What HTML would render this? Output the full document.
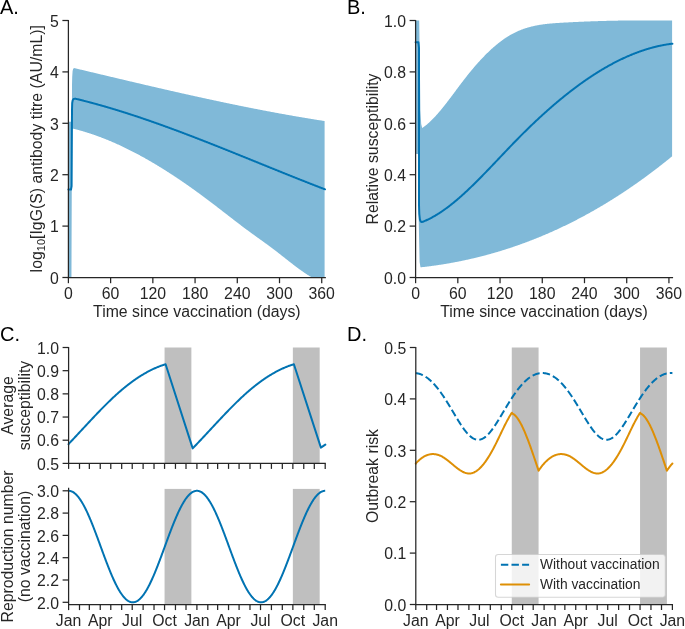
<!DOCTYPE html>
<html><head><meta charset="utf-8"><style>
html,body{margin:0;padding:0;background:#fff;}
svg{display:block;will-change:transform;}
text{font-family:"Liberation Sans",sans-serif;}
</style></head><body>
<svg width="685" height="629" viewBox="0 0 685 629" font-family="Liberation Sans, sans-serif" font-size="15.8" fill="#262626">
<rect width="685" height="629" fill="#fff"/>
<path d="M68.4,277.5 L68.4,121.7 L71.9,121.7 L72,85 L72.2,77 L72.6,71 L73.2,68.8 L74.2,68.1 L74.8,68.2 L75.3,68.32 L75.8,68.44 L76.3,68.56 L76.8,68.68 L77.3,68.79 L77.8,68.91 L78.3,69.03 L78.8,69.15 L79.3,69.27 L79.8,69.39 L80.3,69.51 L80.8,69.63 L81.3,69.75 L81.8,69.87 L82.3,69.99 L82.8,70.1 L83.3,70.22 L83.8,70.34 L84.3,70.46 L84.8,70.58 L85.3,70.7 L85.8,70.82 L86.3,70.94 L86.8,71.06 L87.3,71.18 L87.8,71.3 L88.3,71.41 L88.8,71.53 L89.3,71.65 L89.8,71.77 L90.3,71.89 L90.8,72.01 L91.3,72.13 L91.8,72.25 L92.3,72.37 L92.8,72.49 L93.3,72.61 L93.8,72.72 L94.3,72.84 L94.8,72.96 L95.3,73.08 L95.8,73.2 L96.3,73.32 L96.8,73.44 L97.3,73.56 L97.8,73.68 L98.3,73.8 L98.8,73.91 L99.3,74.03 L99.8,74.15 L100.3,74.27 L100.8,74.39 L101.3,74.51 L101.8,74.63 L102.3,74.75 L102.8,74.87 L103.3,74.99 L103.8,75.1 L104.3,75.22 L104.8,75.34 L105.3,75.46 L105.8,75.58 L106.3,75.7 L106.8,75.82 L107.3,75.94 L107.8,76.06 L108.3,76.17 L108.8,76.29 L109.3,76.41 L109.8,76.53 L110.3,76.65 L110.8,76.77 L111.3,76.89 L111.8,77 L112.3,77.12 L112.8,77.24 L113.3,77.36 L113.8,77.48 L114.3,77.6 L114.8,77.72 L115.3,77.83 L115.8,77.95 L116.3,78.07 L116.8,78.19 L117.3,78.31 L117.8,78.43 L118.3,78.55 L118.8,78.66 L119.3,78.78 L119.8,78.9 L120.3,79.02 L120.8,79.14 L121.3,79.26 L121.8,79.37 L122.3,79.49 L122.8,79.61 L123.3,79.73 L123.8,79.85 L124.3,79.96 L124.8,80.08 L125.3,80.2 L125.8,80.32 L126.3,80.44 L126.8,80.55 L127.3,80.67 L127.8,80.79 L128.3,80.91 L128.8,81.03 L129.3,81.14 L129.8,81.26 L130.3,81.38 L130.8,81.5 L131.3,81.61 L131.8,81.73 L132.3,81.85 L132.8,81.97 L133.3,82.08 L133.8,82.2 L134.3,82.32 L134.8,82.44 L135.3,82.55 L135.8,82.67 L136.3,82.79 L136.8,82.91 L137.3,83.02 L137.8,83.14 L138.3,83.26 L138.8,83.37 L139.3,83.49 L139.8,83.61 L140.3,83.73 L140.8,83.84 L141.3,83.96 L141.8,84.08 L142.3,84.19 L142.8,84.31 L143.3,84.43 L143.8,84.54 L144.3,84.66 L144.8,84.78 L145.3,84.89 L145.8,85.01 L146.3,85.13 L146.8,85.24 L147.3,85.36 L147.8,85.48 L148.3,85.59 L148.8,85.71 L149.3,85.83 L149.8,85.94 L150.3,86.06 L150.8,86.17 L151.3,86.29 L151.8,86.41 L152.3,86.52 L152.8,86.64 L153.3,86.75 L153.8,86.87 L154.3,86.98 L154.8,87.1 L155.3,87.22 L155.8,87.33 L156.3,87.45 L156.8,87.56 L157.3,87.68 L157.8,87.79 L158.3,87.91 L158.8,88.02 L159.3,88.14 L159.8,88.25 L160.3,88.37 L160.8,88.48 L161.3,88.6 L161.8,88.71 L162.3,88.83 L162.8,88.94 L163.3,89.06 L163.8,89.17 L164.3,89.29 L164.8,89.4 L165.3,89.52 L165.8,89.63 L166.3,89.75 L166.8,89.86 L167.3,89.98 L167.8,90.09 L168.3,90.2 L168.8,90.32 L169.3,90.43 L169.8,90.55 L170.3,90.66 L170.8,90.77 L171.3,90.89 L171.8,91 L172.3,91.12 L172.8,91.23 L173.3,91.34 L173.8,91.46 L174.3,91.57 L174.8,91.68 L175.3,91.8 L175.8,91.91 L176.3,92.02 L176.8,92.14 L177.3,92.25 L177.8,92.36 L178.3,92.47 L178.8,92.59 L179.3,92.7 L179.8,92.81 L180.3,92.93 L180.8,93.04 L181.3,93.15 L181.8,93.26 L182.3,93.38 L182.8,93.49 L183.3,93.6 L183.8,93.71 L184.3,93.82 L184.8,93.94 L185.3,94.05 L185.8,94.16 L186.3,94.27 L186.8,94.38 L187.3,94.5 L187.8,94.61 L188.3,94.72 L188.8,94.83 L189.3,94.94 L189.8,95.05 L190.3,95.16 L190.8,95.27 L191.3,95.39 L191.8,95.5 L192.3,95.61 L192.8,95.72 L193.3,95.83 L193.8,95.94 L194.3,96.05 L194.8,96.16 L195.3,96.27 L195.8,96.38 L196.3,96.49 L196.8,96.6 L197.3,96.71 L197.8,96.82 L198.3,96.93 L198.8,97.04 L199.3,97.15 L199.8,97.26 L200.3,97.37 L200.8,97.48 L201.3,97.59 L201.8,97.7 L202.3,97.81 L202.8,97.92 L203.3,98.03 L203.8,98.14 L204.3,98.24 L204.8,98.35 L205.3,98.46 L205.8,98.57 L206.3,98.68 L206.8,98.79 L207.3,98.9 L207.8,99 L208.3,99.11 L208.8,99.22 L209.3,99.33 L209.8,99.44 L210.3,99.54 L210.8,99.65 L211.3,99.76 L211.8,99.87 L212.3,99.97 L212.8,100.08 L213.3,100.19 L213.8,100.3 L214.3,100.4 L214.8,100.51 L215.3,100.62 L215.8,100.72 L216.3,100.83 L216.8,100.94 L217.3,101.04 L217.8,101.15 L218.3,101.26 L218.8,101.36 L219.3,101.47 L219.8,101.57 L220.3,101.68 L220.8,101.79 L221.3,101.89 L221.8,102 L222.3,102.1 L222.8,102.21 L223.3,102.31 L223.8,102.42 L224.3,102.52 L224.8,102.63 L225.3,102.73 L225.8,102.84 L226.3,102.94 L226.8,103.05 L227.3,103.15 L227.8,103.26 L228.3,103.36 L228.8,103.46 L229.3,103.57 L229.8,103.67 L230.3,103.78 L230.8,103.88 L231.3,103.98 L231.8,104.09 L232.3,104.19 L232.8,104.29 L233.3,104.4 L233.8,104.5 L234.3,104.6 L234.8,104.71 L235.3,104.81 L235.8,104.91 L236.3,105.01 L236.8,105.12 L237.3,105.22 L237.8,105.32 L238.3,105.42 L238.8,105.53 L239.3,105.63 L239.8,105.73 L240.3,105.83 L240.8,105.93 L241.3,106.03 L241.8,106.13 L242.3,106.24 L242.8,106.34 L243.3,106.44 L243.8,106.54 L244.3,106.64 L244.8,106.74 L245.3,106.84 L245.8,106.94 L246.3,107.04 L246.8,107.14 L247.3,107.24 L247.8,107.34 L248.3,107.44 L248.8,107.54 L249.3,107.64 L249.8,107.74 L250.3,107.84 L250.8,107.94 L251.3,108.04 L251.8,108.14 L252.3,108.23 L252.8,108.33 L253.3,108.43 L253.8,108.53 L254.3,108.63 L254.8,108.73 L255.3,108.82 L255.8,108.92 L256.3,109.02 L256.8,109.12 L257.3,109.22 L257.8,109.31 L258.3,109.41 L258.8,109.51 L259.3,109.6 L259.8,109.7 L260.3,109.8 L260.8,109.89 L261.3,109.99 L261.8,110.09 L262.3,110.18 L262.8,110.28 L263.3,110.38 L263.8,110.47 L264.3,110.57 L264.8,110.66 L265.3,110.76 L265.8,110.85 L266.3,110.95 L266.8,111.04 L267.3,111.14 L267.8,111.23 L268.3,111.33 L268.8,111.42 L269.3,111.52 L269.8,111.61 L270.3,111.71 L270.8,111.8 L271.3,111.89 L271.8,111.99 L272.3,112.08 L272.8,112.17 L273.3,112.27 L273.8,112.36 L274.3,112.45 L274.8,112.55 L275.3,112.64 L275.8,112.73 L276.3,112.82 L276.8,112.92 L277.3,113.01 L277.8,113.1 L278.3,113.19 L278.8,113.28 L279.3,113.38 L279.8,113.47 L280.3,113.56 L280.8,113.65 L281.3,113.74 L281.8,113.83 L282.3,113.92 L282.8,114.01 L283.3,114.1 L283.8,114.19 L284.3,114.28 L284.8,114.37 L285.3,114.46 L285.8,114.55 L286.3,114.64 L286.8,114.73 L287.3,114.82 L287.8,114.91 L288.3,115 L288.8,115.09 L289.3,115.18 L289.8,115.27 L290.3,115.35 L290.8,115.44 L291.3,115.53 L291.8,115.62 L292.3,115.71 L292.8,115.79 L293.3,115.88 L293.8,115.97 L294.3,116.06 L294.8,116.14 L295.3,116.23 L295.8,116.32 L296.3,116.4 L296.8,116.49 L297.3,116.57 L297.8,116.66 L298.3,116.75 L298.8,116.83 L299.3,116.92 L299.8,117 L300.3,117.09 L300.8,117.17 L301.3,117.26 L301.8,117.34 L302.3,117.43 L302.8,117.51 L303.3,117.6 L303.8,117.68 L304.3,117.76 L304.8,117.85 L305.3,117.93 L305.8,118.02 L306.3,118.1 L306.8,118.18 L307.3,118.26 L307.8,118.35 L308.3,118.43 L308.8,118.51 L309.3,118.6 L309.8,118.68 L310.3,118.76 L310.8,118.84 L311.3,118.92 L311.8,119 L312.3,119.09 L312.8,119.17 L313.3,119.25 L313.8,119.33 L314.3,119.41 L314.8,119.49 L315.3,119.57 L315.8,119.65 L316.3,119.73 L316.8,119.81 L317.3,119.89 L317.8,119.97 L318.3,120.05 L318.8,120.13 L319.3,120.21 L319.8,120.29 L320.3,120.36 L320.8,120.44 L321.3,120.52 L321.8,120.6 L322.3,120.68 L322.8,120.75 L323.3,120.83 L323.8,120.91 L324.3,120.99 L324.6,121.03 L324.6,277.5 L324.3,277.5 L323.8,277.5 L323.3,277.5 L322.8,277.5 L322.3,277.5 L321.8,277.5 L321.3,277.5 L320.8,277.5 L320.3,277.5 L319.8,277.5 L319.3,277.5 L318.8,277.5 L318.3,277.5 L317.8,277.5 L317.3,277.5 L316.8,277.5 L316.3,277.5 L315.8,277.5 L315.3,277.5 L314.8,277.5 L314.3,277.5 L313.8,277.5 L313.3,277.5 L312.8,277.5 L312.3,277.5 L311.8,277.35 L311.3,277.08 L310.8,276.79 L310.3,276.5 L309.8,276.2 L309.3,275.9 L308.8,275.59 L308.3,275.27 L307.8,274.96 L307.3,274.63 L306.8,274.31 L306.3,273.98 L305.8,273.65 L305.3,273.32 L304.8,272.99 L304.3,272.65 L303.8,272.31 L303.3,271.96 L302.8,271.62 L302.3,271.27 L301.8,270.92 L301.3,270.56 L300.8,270.21 L300.3,269.85 L299.8,269.49 L299.3,269.13 L298.8,268.76 L298.3,268.39 L297.8,268.03 L297.3,267.66 L296.8,267.28 L296.3,266.91 L295.8,266.54 L295.3,266.16 L294.8,265.78 L294.3,265.4 L293.8,265.02 L293.3,264.64 L292.8,264.25 L292.3,263.87 L291.8,263.48 L291.3,263.1 L290.8,262.71 L290.3,262.32 L289.8,261.93 L289.3,261.54 L288.8,261.15 L288.3,260.76 L287.8,260.37 L287.3,259.97 L286.8,259.58 L286.3,259.19 L285.8,258.79 L285.3,258.4 L284.8,258.01 L284.3,257.61 L283.8,257.22 L283.3,256.82 L282.8,256.43 L282.3,256.03 L281.8,255.64 L281.3,255.25 L280.8,254.85 L280.3,254.46 L279.8,254.07 L279.3,253.68 L278.8,253.29 L278.3,252.9 L277.8,252.51 L277.3,252.12 L276.8,251.73 L276.3,251.35 L275.8,250.96 L275.3,250.58 L274.8,250.19 L274.3,249.81 L273.8,249.43 L273.3,249.05 L272.8,248.67 L272.3,248.29 L271.8,247.92 L271.3,247.55 L270.8,247.17 L270.3,246.8 L269.8,246.43 L269.3,246.06 L268.8,245.69 L268.3,245.32 L267.8,244.96 L267.3,244.59 L266.8,244.23 L266.3,243.86 L265.8,243.5 L265.3,243.14 L264.8,242.78 L264.3,242.41 L263.8,242.05 L263.3,241.69 L262.8,241.33 L262.3,240.97 L261.8,240.61 L261.3,240.25 L260.8,239.9 L260.3,239.54 L259.8,239.18 L259.3,238.82 L258.8,238.46 L258.3,238.1 L257.8,237.75 L257.3,237.39 L256.8,237.03 L256.3,236.67 L255.8,236.31 L255.3,235.95 L254.8,235.59 L254.3,235.23 L253.8,234.87 L253.3,234.51 L252.8,234.15 L252.3,233.79 L251.8,233.42 L251.3,233.06 L250.8,232.7 L250.3,232.33 L249.8,231.96 L249.3,231.6 L248.8,231.23 L248.3,230.86 L247.8,230.49 L247.3,230.12 L246.8,229.75 L246.3,229.38 L245.8,229.01 L245.3,228.63 L244.8,228.26 L244.3,227.89 L243.8,227.51 L243.3,227.13 L242.8,226.76 L242.3,226.38 L241.8,226 L241.3,225.63 L240.8,225.25 L240.3,224.87 L239.8,224.49 L239.3,224.11 L238.8,223.73 L238.3,223.35 L237.8,222.96 L237.3,222.58 L236.8,222.2 L236.3,221.82 L235.8,221.43 L235.3,221.05 L234.8,220.66 L234.3,220.28 L233.8,219.9 L233.3,219.51 L232.8,219.12 L232.3,218.74 L231.8,218.35 L231.3,217.97 L230.8,217.58 L230.3,217.19 L229.8,216.81 L229.3,216.42 L228.8,216.03 L228.3,215.65 L227.8,215.26 L227.3,214.87 L226.8,214.49 L226.3,214.1 L225.8,213.71 L225.3,213.32 L224.8,212.94 L224.3,212.55 L223.8,212.16 L223.3,211.78 L222.8,211.39 L222.3,211 L221.8,210.61 L221.3,210.23 L220.8,209.84 L220.3,209.45 L219.8,209.07 L219.3,208.68 L218.8,208.3 L218.3,207.91 L217.8,207.53 L217.3,207.14 L216.8,206.76 L216.3,206.37 L215.8,205.99 L215.3,205.6 L214.8,205.22 L214.3,204.84 L213.8,204.45 L213.3,204.07 L212.8,203.69 L212.3,203.31 L211.8,202.93 L211.3,202.55 L210.8,202.17 L210.3,201.79 L209.8,201.41 L209.3,201.03 L208.8,200.65 L208.3,200.28 L207.8,199.9 L207.3,199.52 L206.8,199.15 L206.3,198.77 L205.8,198.4 L205.3,198.03 L204.8,197.65 L204.3,197.28 L203.8,196.91 L203.3,196.54 L202.8,196.17 L202.3,195.8 L201.8,195.43 L201.3,195.06 L200.8,194.69 L200.3,194.33 L199.8,193.96 L199.3,193.59 L198.8,193.23 L198.3,192.86 L197.8,192.5 L197.3,192.14 L196.8,191.77 L196.3,191.41 L195.8,191.05 L195.3,190.69 L194.8,190.33 L194.3,189.97 L193.8,189.61 L193.3,189.25 L192.8,188.9 L192.3,188.54 L191.8,188.18 L191.3,187.83 L190.8,187.47 L190.3,187.12 L189.8,186.77 L189.3,186.42 L188.8,186.06 L188.3,185.71 L187.8,185.36 L187.3,185.01 L186.8,184.66 L186.3,184.31 L185.8,183.97 L185.3,183.62 L184.8,183.27 L184.3,182.93 L183.8,182.58 L183.3,182.24 L182.8,181.9 L182.3,181.55 L181.8,181.21 L181.3,180.87 L180.8,180.53 L180.3,180.19 L179.8,179.85 L179.3,179.51 L178.8,179.18 L178.3,178.84 L177.8,178.5 L177.3,178.17 L176.8,177.83 L176.3,177.5 L175.8,177.17 L175.3,176.84 L174.8,176.5 L174.3,176.17 L173.8,175.84 L173.3,175.52 L172.8,175.19 L172.3,174.86 L171.8,174.53 L171.3,174.21 L170.8,173.88 L170.3,173.56 L169.8,173.23 L169.3,172.91 L168.8,172.59 L168.3,172.27 L167.8,171.95 L167.3,171.63 L166.8,171.31 L166.3,170.99 L165.8,170.67 L165.3,170.36 L164.8,170.04 L164.3,169.73 L163.8,169.41 L163.3,169.1 L162.8,168.79 L162.3,168.48 L161.8,168.17 L161.3,167.86 L160.8,167.55 L160.3,167.24 L159.8,166.93 L159.3,166.63 L158.8,166.32 L158.3,166.02 L157.8,165.71 L157.3,165.41 L156.8,165.11 L156.3,164.81 L155.8,164.51 L155.3,164.21 L154.8,163.91 L154.3,163.61 L153.8,163.31 L153.3,163.02 L152.8,162.72 L152.3,162.43 L151.8,162.13 L151.3,161.84 L150.8,161.55 L150.3,161.26 L149.8,160.97 L149.3,160.68 L148.8,160.39 L148.3,160.11 L147.8,159.82 L147.3,159.53 L146.8,159.25 L146.3,158.97 L145.8,158.68 L145.3,158.4 L144.8,158.12 L144.3,157.84 L143.8,157.56 L143.3,157.29 L142.8,157.01 L142.3,156.73 L141.8,156.46 L141.3,156.18 L140.8,155.91 L140.3,155.64 L139.8,155.37 L139.3,155.1 L138.8,154.83 L138.3,154.56 L137.8,154.29 L137.3,154.02 L136.8,153.76 L136.3,153.49 L135.8,153.23 L135.3,152.97 L134.8,152.7 L134.3,152.44 L133.8,152.18 L133.3,151.92 L132.8,151.67 L132.3,151.41 L131.8,151.15 L131.3,150.9 L130.8,150.64 L130.3,150.39 L129.8,150.14 L129.3,149.89 L128.8,149.64 L128.3,149.39 L127.8,149.14 L127.3,148.89 L126.8,148.65 L126.3,148.4 L125.8,148.16 L125.3,147.92 L124.8,147.67 L124.3,147.43 L123.8,147.19 L123.3,146.96 L122.8,146.72 L122.3,146.48 L121.8,146.24 L121.3,146.01 L120.8,145.78 L120.3,145.54 L119.8,145.31 L119.3,145.08 L118.8,144.85 L118.3,144.62 L117.8,144.4 L117.3,144.17 L116.8,143.95 L116.3,143.72 L115.8,143.5 L115.3,143.28 L114.8,143.05 L114.3,142.84 L113.8,142.62 L113.3,142.4 L112.8,142.18 L112.3,141.97 L111.8,141.75 L111.3,141.54 L110.8,141.33 L110.3,141.11 L109.8,140.9 L109.3,140.7 L108.8,140.49 L108.3,140.28 L107.8,140.08 L107.3,139.87 L106.8,139.67 L106.3,139.46 L105.8,139.26 L105.3,139.06 L104.8,138.86 L104.3,138.67 L103.8,138.47 L103.3,138.27 L102.8,138.08 L102.3,137.89 L101.8,137.69 L101.3,137.5 L100.8,137.31 L100.3,137.12 L99.8,136.94 L99.3,136.75 L98.8,136.56 L98.3,136.38 L97.8,136.2 L97.3,136.02 L96.8,135.83 L96.3,135.66 L95.8,135.48 L95.3,135.3 L94.8,135.12 L94.3,134.95 L93.8,134.78 L93.3,134.6 L92.8,134.43 L92.3,134.26 L91.8,134.09 L91.3,133.92 L90.8,133.76 L90.3,133.59 L89.8,133.43 L89.3,133.27 L88.8,133.1 L88.3,132.94 L87.8,132.78 L87.3,132.63 L86.8,132.47 L86.3,132.31 L85.8,132.16 L85.3,132 L84.8,131.85 L84.3,131.7 L83.8,131.55 L83.3,131.4 L82.8,131.26 L82.3,131.11 L81.8,130.97 L81.3,130.82 L80.8,130.68 L80.3,130.54 L79.8,130.4 L79.3,130.26 L78.8,130.12 L78.3,129.99 L77.8,129.85 L77.3,129.72 L76.8,129.59 L76.3,129.46 L75.8,129.33 L75.3,129.2 L74.8,129.07 L74.3,128.95 L73.8,128.82 L73.3,128.7 L72.6,128.9 L72,129.5 L71.45,277.5 Z" fill="#80b9d8"/>
<path d="M68.4,189.6 L71,189.6 L71.6,186 L72,110 L72.2,103 L72.7,100.2 L73.6,98.9 L75.1,98.61 L75.6,98.73 L76.1,98.86 L76.6,98.98 L77.1,99.1 L77.6,99.22 L78.1,99.34 L78.6,99.47 L79.1,99.59 L79.6,99.71 L80.1,99.84 L80.6,99.96 L81.1,100.09 L81.6,100.21 L82.1,100.34 L82.6,100.46 L83.1,100.59 L83.6,100.72 L84.1,100.85 L84.6,100.97 L85.1,101.1 L85.6,101.23 L86.1,101.36 L86.6,101.49 L87.1,101.62 L87.6,101.75 L88.1,101.88 L88.6,102.01 L89.1,102.15 L89.6,102.28 L90.1,102.41 L90.6,102.54 L91.1,102.68 L91.6,102.81 L92.1,102.95 L92.6,103.08 L93.1,103.22 L93.6,103.35 L94.1,103.49 L94.6,103.62 L95.1,103.76 L95.6,103.9 L96.1,104.04 L96.6,104.17 L97.1,104.31 L97.6,104.45 L98.1,104.59 L98.6,104.73 L99.1,104.87 L99.6,105.01 L100.1,105.15 L100.6,105.29 L101.1,105.43 L101.6,105.58 L102.1,105.72 L102.6,105.86 L103.1,106 L103.6,106.15 L104.1,106.29 L104.6,106.44 L105.1,106.58 L105.6,106.73 L106.1,106.87 L106.6,107.02 L107.1,107.16 L107.6,107.31 L108.1,107.46 L108.6,107.6 L109.1,107.75 L109.6,107.9 L110.1,108.05 L110.6,108.2 L111.1,108.35 L111.6,108.5 L112.1,108.65 L112.6,108.8 L113.1,108.95 L113.6,109.1 L114.1,109.25 L114.6,109.4 L115.1,109.55 L115.6,109.7 L116.1,109.86 L116.6,110.01 L117.1,110.16 L117.6,110.32 L118.1,110.47 L118.6,110.63 L119.1,110.78 L119.6,110.93 L120.1,111.09 L120.6,111.25 L121.1,111.4 L121.6,111.56 L122.1,111.72 L122.6,111.87 L123.1,112.03 L123.6,112.19 L124.1,112.35 L124.6,112.5 L125.1,112.66 L125.6,112.82 L126.1,112.98 L126.6,113.14 L127.1,113.3 L127.6,113.46 L128.1,113.62 L128.6,113.78 L129.1,113.95 L129.6,114.11 L130.1,114.27 L130.6,114.43 L131.1,114.59 L131.6,114.76 L132.1,114.92 L132.6,115.08 L133.1,115.25 L133.6,115.41 L134.1,115.58 L134.6,115.74 L135.1,115.91 L135.6,116.07 L136.1,116.24 L136.6,116.4 L137.1,116.57 L137.6,116.74 L138.1,116.9 L138.6,117.07 L139.1,117.24 L139.6,117.41 L140.1,117.57 L140.6,117.74 L141.1,117.91 L141.6,118.08 L142.1,118.25 L142.6,118.42 L143.1,118.59 L143.6,118.76 L144.1,118.93 L144.6,119.1 L145.1,119.27 L145.6,119.44 L146.1,119.61 L146.6,119.79 L147.1,119.96 L147.6,120.13 L148.1,120.3 L148.6,120.48 L149.1,120.65 L149.6,120.82 L150.1,121 L150.6,121.17 L151.1,121.34 L151.6,121.52 L152.1,121.69 L152.6,121.87 L153.1,122.04 L153.6,122.22 L154.1,122.39 L154.6,122.57 L155.1,122.75 L155.6,122.92 L156.1,123.1 L156.6,123.28 L157.1,123.45 L157.6,123.63 L158.1,123.81 L158.6,123.99 L159.1,124.17 L159.6,124.35 L160.1,124.52 L160.6,124.7 L161.1,124.88 L161.6,125.06 L162.1,125.24 L162.6,125.42 L163.1,125.6 L163.6,125.78 L164.1,125.96 L164.6,126.14 L165.1,126.32 L165.6,126.51 L166.1,126.69 L166.6,126.87 L167.1,127.05 L167.6,127.23 L168.1,127.42 L168.6,127.6 L169.1,127.78 L169.6,127.97 L170.1,128.15 L170.6,128.33 L171.1,128.52 L171.6,128.7 L172.1,128.88 L172.6,129.07 L173.1,129.25 L173.6,129.44 L174.1,129.62 L174.6,129.81 L175.1,129.99 L175.6,130.18 L176.1,130.37 L176.6,130.55 L177.1,130.74 L177.6,130.93 L178.1,131.11 L178.6,131.3 L179.1,131.49 L179.6,131.67 L180.1,131.86 L180.6,132.05 L181.1,132.24 L181.6,132.42 L182.1,132.61 L182.6,132.8 L183.1,132.99 L183.6,133.18 L184.1,133.37 L184.6,133.56 L185.1,133.75 L185.6,133.94 L186.1,134.13 L186.6,134.32 L187.1,134.51 L187.6,134.7 L188.1,134.89 L188.6,135.08 L189.1,135.27 L189.6,135.46 L190.1,135.65 L190.6,135.84 L191.1,136.03 L191.6,136.22 L192.1,136.42 L192.6,136.61 L193.1,136.8 L193.6,136.99 L194.1,137.19 L194.6,137.38 L195.1,137.57 L195.6,137.76 L196.1,137.96 L196.6,138.15 L197.1,138.34 L197.6,138.54 L198.1,138.73 L198.6,138.92 L199.1,139.12 L199.6,139.31 L200.1,139.51 L200.6,139.7 L201.1,139.9 L201.6,140.09 L202.1,140.29 L202.6,140.48 L203.1,140.68 L203.6,140.87 L204.1,141.07 L204.6,141.26 L205.1,141.46 L205.6,141.65 L206.1,141.85 L206.6,142.04 L207.1,142.24 L207.6,142.44 L208.1,142.63 L208.6,142.83 L209.1,143.03 L209.6,143.22 L210.1,143.42 L210.6,143.62 L211.1,143.81 L211.6,144.01 L212.1,144.21 L212.6,144.41 L213.1,144.6 L213.6,144.8 L214.1,145 L214.6,145.2 L215.1,145.4 L215.6,145.59 L216.1,145.79 L216.6,145.99 L217.1,146.19 L217.6,146.39 L218.1,146.59 L218.6,146.79 L219.1,146.98 L219.6,147.18 L220.1,147.38 L220.6,147.58 L221.1,147.78 L221.6,147.98 L222.1,148.18 L222.6,148.38 L223.1,148.58 L223.6,148.78 L224.1,148.98 L224.6,149.18 L225.1,149.38 L225.6,149.58 L226.1,149.78 L226.6,149.98 L227.1,150.18 L227.6,150.38 L228.1,150.58 L228.6,150.78 L229.1,150.98 L229.6,151.18 L230.1,151.38 L230.6,151.58 L231.1,151.78 L231.6,151.98 L232.1,152.19 L232.6,152.39 L233.1,152.59 L233.6,152.79 L234.1,152.99 L234.6,153.19 L235.1,153.39 L235.6,153.59 L236.1,153.8 L236.6,154 L237.1,154.2 L237.6,154.4 L238.1,154.6 L238.6,154.8 L239.1,155.01 L239.6,155.21 L240.1,155.41 L240.6,155.61 L241.1,155.81 L241.6,156.02 L242.1,156.22 L242.6,156.42 L243.1,156.62 L243.6,156.82 L244.1,157.03 L244.6,157.23 L245.1,157.43 L245.6,157.63 L246.1,157.83 L246.6,158.04 L247.1,158.24 L247.6,158.44 L248.1,158.64 L248.6,158.85 L249.1,159.05 L249.6,159.25 L250.1,159.45 L250.6,159.66 L251.1,159.86 L251.6,160.06 L252.1,160.26 L252.6,160.47 L253.1,160.67 L253.6,160.87 L254.1,161.08 L254.6,161.28 L255.1,161.48 L255.6,161.68 L256.1,161.89 L256.6,162.09 L257.1,162.29 L257.6,162.49 L258.1,162.7 L258.6,162.9 L259.1,163.1 L259.6,163.31 L260.1,163.51 L260.6,163.71 L261.1,163.91 L261.6,164.12 L262.1,164.32 L262.6,164.52 L263.1,164.72 L263.6,164.93 L264.1,165.13 L264.6,165.33 L265.1,165.54 L265.6,165.74 L266.1,165.94 L266.6,166.14 L267.1,166.35 L267.6,166.55 L268.1,166.75 L268.6,166.95 L269.1,167.16 L269.6,167.36 L270.1,167.56 L270.6,167.76 L271.1,167.96 L271.6,168.17 L272.1,168.37 L272.6,168.57 L273.1,168.77 L273.6,168.98 L274.1,169.18 L274.6,169.38 L275.1,169.58 L275.6,169.78 L276.1,169.99 L276.6,170.19 L277.1,170.39 L277.6,170.59 L278.1,170.79 L278.6,171 L279.1,171.2 L279.6,171.4 L280.1,171.6 L280.6,171.8 L281.1,172 L281.6,172.21 L282.1,172.41 L282.6,172.61 L283.1,172.81 L283.6,173.01 L284.1,173.21 L284.6,173.41 L285.1,173.61 L285.6,173.81 L286.1,174.02 L286.6,174.22 L287.1,174.42 L287.6,174.62 L288.1,174.82 L288.6,175.02 L289.1,175.22 L289.6,175.42 L290.1,175.62 L290.6,175.82 L291.1,176.02 L291.6,176.22 L292.1,176.42 L292.6,176.62 L293.1,176.82 L293.6,177.02 L294.1,177.22 L294.6,177.42 L295.1,177.62 L295.6,177.82 L296.1,178.02 L296.6,178.22 L297.1,178.42 L297.6,178.61 L298.1,178.81 L298.6,179.01 L299.1,179.21 L299.6,179.41 L300.1,179.61 L300.6,179.81 L301.1,180 L301.6,180.2 L302.1,180.4 L302.6,180.6 L303.1,180.8 L303.6,180.99 L304.1,181.19 L304.6,181.39 L305.1,181.59 L305.6,181.78 L306.1,181.98 L306.6,182.18 L307.1,182.38 L307.6,182.57 L308.1,182.77 L308.6,182.97 L309.1,183.16 L309.6,183.36 L310.1,183.56 L310.6,183.75 L311.1,183.95 L311.6,184.14 L312.1,184.34 L312.6,184.53 L313.1,184.73 L313.6,184.93 L314.1,185.12 L314.6,185.32 L315.1,185.51 L315.6,185.71 L316.1,185.9 L316.6,186.09 L317.1,186.29 L317.6,186.48 L318.1,186.68 L318.6,186.87 L319.1,187.06 L319.6,187.26 L320.1,187.45 L320.6,187.64 L321.1,187.84 L321.6,188.03 L322.1,188.22 L322.6,188.42 L323.1,188.61 L323.6,188.8 L324.1,188.99 L324.6,189.19 L325,189.34" fill="none" stroke="#0173b2" stroke-width="2.0" stroke-linejoin="round" stroke-linecap="round"/>
<path d="M68.4,20.5 L68.4,277.5 L325.25,277.5" fill="none" stroke="#262626" stroke-width="1.25" stroke-linecap="square"/>
<line x1="62.4" y1="277.5" x2="68.4" y2="277.5" stroke="#262626" stroke-width="1.25"/>
<text x="58.8" y="283.7" text-anchor="end">0</text>
<line x1="62.4" y1="226.1" x2="68.4" y2="226.1" stroke="#262626" stroke-width="1.25"/>
<text x="58.8" y="232.3" text-anchor="end">1</text>
<line x1="62.4" y1="174.7" x2="68.4" y2="174.7" stroke="#262626" stroke-width="1.25"/>
<text x="58.8" y="180.9" text-anchor="end">2</text>
<line x1="62.4" y1="123.3" x2="68.4" y2="123.3" stroke="#262626" stroke-width="1.25"/>
<text x="58.8" y="129.5" text-anchor="end">3</text>
<line x1="62.4" y1="71.9" x2="68.4" y2="71.9" stroke="#262626" stroke-width="1.25"/>
<text x="58.8" y="78.1" text-anchor="end">4</text>
<line x1="62.4" y1="20.5" x2="68.4" y2="20.5" stroke="#262626" stroke-width="1.25"/>
<text x="58.8" y="26.7" text-anchor="end">5</text>
<line x1="68.4" y1="277.5" x2="68.4" y2="283.2" stroke="#262626" stroke-width="1.25"/>
<text x="68.4" y="298.5" text-anchor="middle">0</text>
<line x1="110.62" y1="277.5" x2="110.62" y2="283.2" stroke="#262626" stroke-width="1.25"/>
<text x="110.62" y="298.5" text-anchor="middle">60</text>
<line x1="152.84" y1="277.5" x2="152.84" y2="283.2" stroke="#262626" stroke-width="1.25"/>
<text x="152.84" y="298.5" text-anchor="middle">120</text>
<line x1="195.07" y1="277.5" x2="195.07" y2="283.2" stroke="#262626" stroke-width="1.25"/>
<text x="195.07" y="298.5" text-anchor="middle">180</text>
<line x1="237.29" y1="277.5" x2="237.29" y2="283.2" stroke="#262626" stroke-width="1.25"/>
<text x="237.29" y="298.5" text-anchor="middle">240</text>
<line x1="279.51" y1="277.5" x2="279.51" y2="283.2" stroke="#262626" stroke-width="1.25"/>
<text x="279.51" y="298.5" text-anchor="middle">300</text>
<line x1="321.73" y1="277.5" x2="321.73" y2="283.2" stroke="#262626" stroke-width="1.25"/>
<text x="321.73" y="298.5" text-anchor="middle">360</text>
<text x="196.83" y="317" text-anchor="middle">Time since vaccination (days)</text>
<text transform="translate(41.9,148.75) rotate(-90)" text-anchor="middle" textLength="247.3" lengthAdjust="spacing">log<tspan font-size="11" dy="3">10</tspan><tspan dy="-3">[IgG(S) antibody titre (AU/mL)]</tspan></text>
<path d="M415.6,20.5 L419.2,20.5 L419.8,60 L420.4,110 L421.2,124 L422.2,127.98 L422.7,127.65 L423.2,127.3 L423.7,126.95 L424.2,126.59 L424.7,126.22 L425.2,125.83 L425.7,125.44 L426.2,125.04 L426.7,124.63 L427.2,124.21 L427.7,123.79 L428.2,123.35 L428.7,122.91 L429.2,122.46 L429.7,122 L430.2,121.53 L430.7,121.05 L431.2,120.57 L431.7,120.08 L432.2,119.58 L432.7,119.07 L433.2,118.56 L433.7,118.04 L434.2,117.52 L434.7,116.98 L435.2,116.44 L435.7,115.9 L436.2,115.35 L436.7,114.79 L437.2,114.23 L437.7,113.66 L438.2,113.08 L438.7,112.5 L439.2,111.92 L439.7,111.33 L440.2,110.73 L440.7,110.13 L441.2,109.53 L441.7,108.92 L442.2,108.31 L442.7,107.69 L443.2,107.07 L443.7,106.45 L444.2,105.82 L444.7,105.19 L445.2,104.55 L445.7,103.91 L446.2,103.27 L446.7,102.63 L447.2,101.98 L447.7,101.33 L448.2,100.68 L448.7,100.02 L449.2,99.37 L449.7,98.71 L450.2,98.05 L450.7,97.39 L451.2,96.72 L451.7,96.06 L452.2,95.39 L452.7,94.73 L453.2,94.06 L453.7,93.39 L454.2,92.72 L454.7,92.05 L455.2,91.38 L455.7,90.71 L456.2,90.04 L456.7,89.37 L457.2,88.7 L457.7,88.03 L458.2,87.36 L458.7,86.7 L459.2,86.03 L459.7,85.36 L460.2,84.7 L460.7,84.04 L461.2,83.37 L461.7,82.71 L462.2,82.06 L462.7,81.4 L463.2,80.75 L463.7,80.1 L464.2,79.45 L464.7,78.8 L465.2,78.16 L465.7,77.52 L466.2,76.88 L466.7,76.24 L467.2,75.61 L467.7,74.98 L468.2,74.36 L468.7,73.74 L469.2,73.12 L469.7,72.5 L470.2,71.89 L470.7,71.28 L471.2,70.67 L471.7,70.07 L472.2,69.47 L472.7,68.88 L473.2,68.28 L473.7,67.69 L474.2,67.11 L474.7,66.53 L475.2,65.95 L475.7,65.37 L476.2,64.8 L476.7,64.23 L477.2,63.66 L477.7,63.1 L478.2,62.54 L478.7,61.99 L479.2,61.44 L479.7,60.89 L480.2,60.35 L480.7,59.81 L481.2,59.27 L481.7,58.74 L482.2,58.21 L482.7,57.68 L483.2,57.16 L483.7,56.64 L484.2,56.13 L484.7,55.61 L485.2,55.11 L485.7,54.6 L486.2,54.11 L486.7,53.61 L487.2,53.12 L487.7,52.63 L488.2,52.15 L488.7,51.67 L489.2,51.19 L489.7,50.72 L490.2,50.25 L490.7,49.79 L491.2,49.33 L491.7,48.87 L492.2,48.42 L492.7,47.98 L493.2,47.53 L493.7,47.09 L494.2,46.66 L494.7,46.23 L495.2,45.8 L495.7,45.38 L496.2,44.96 L496.7,44.55 L497.2,44.14 L497.7,43.73 L498.2,43.33 L498.7,42.93 L499.2,42.54 L499.7,42.15 L500.2,41.77 L500.7,41.39 L501.2,41.02 L501.7,40.65 L502.2,40.28 L502.7,39.92 L503.2,39.56 L503.7,39.21 L504.2,38.86 L504.7,38.52 L505.2,38.18 L505.7,37.85 L506.2,37.52 L506.7,37.2 L507.2,36.88 L507.7,36.56 L508.2,36.25 L508.7,35.94 L509.2,35.64 L509.7,35.35 L510.2,35.06 L510.7,34.77 L511.2,34.49 L511.7,34.21 L512.2,33.94 L512.7,33.67 L513.2,33.41 L513.7,33.15 L514.2,32.9 L514.7,32.65 L515.2,32.4 L515.7,32.16 L516.2,31.92 L516.7,31.69 L517.2,31.46 L517.7,31.24 L518.2,31.02 L518.7,30.81 L519.2,30.59 L519.7,30.39 L520.2,30.18 L520.7,29.98 L521.2,29.79 L521.7,29.6 L522.2,29.41 L522.7,29.23 L523.2,29.05 L523.7,28.87 L524.2,28.7 L524.7,28.53 L525.2,28.36 L525.7,28.2 L526.2,28.04 L526.7,27.88 L527.2,27.73 L527.7,27.58 L528.2,27.43 L528.7,27.29 L529.2,27.15 L529.7,27.02 L530.2,26.88 L530.7,26.75 L531.2,26.62 L531.7,26.5 L532.2,26.38 L532.7,26.26 L533.2,26.14 L533.7,26.03 L534.2,25.92 L534.7,25.81 L535.2,25.71 L535.7,25.61 L536.2,25.51 L536.7,25.41 L537.2,25.31 L537.7,25.22 L538.2,25.13 L538.7,25.04 L539.2,24.96 L539.7,24.87 L540.2,24.79 L540.7,24.71 L541.2,24.64 L541.7,24.56 L542.2,24.49 L542.7,24.42 L543.2,24.35 L543.7,24.28 L544.2,24.22 L544.7,24.15 L545.2,24.09 L545.7,24.03 L546.2,23.97 L546.7,23.92 L547.2,23.86 L547.7,23.81 L548.2,23.76 L548.7,23.71 L549.2,23.66 L549.7,23.61 L550.2,23.56 L550.7,23.52 L551.2,23.47 L551.7,23.43 L552.2,23.39 L552.7,23.35 L553.2,23.31 L553.7,23.27 L554.2,23.23 L554.7,23.19 L555.2,23.16 L555.7,23.12 L556.2,23.08 L556.7,23.05 L557.2,23.02 L557.7,22.98 L558.2,22.95 L558.7,22.92 L559.2,22.89 L559.7,22.86 L560.2,22.83 L560.7,22.8 L561.2,22.77 L561.7,22.74 L562.2,22.71 L562.7,22.68 L563.2,22.65 L563.7,22.62 L564.2,22.6 L564.7,22.57 L565.2,22.54 L565.7,22.51 L566.2,22.49 L566.7,22.46 L567.2,22.43 L567.7,22.4 L568.2,22.38 L568.7,22.35 L569.2,22.32 L569.7,22.3 L570.2,22.27 L570.7,22.25 L571.2,22.22 L571.7,22.19 L572.2,22.17 L572.7,22.14 L573.2,22.12 L573.7,22.09 L574.2,22.07 L574.7,22.05 L575.2,22.02 L575.7,22 L576.2,21.97 L576.7,21.95 L577.2,21.93 L577.7,21.9 L578.2,21.88 L578.7,21.86 L579.2,21.84 L579.7,21.81 L580.2,21.79 L580.7,21.77 L581.2,21.75 L581.7,21.72 L582.2,21.7 L582.7,21.68 L583.2,21.66 L583.7,21.64 L584.2,21.62 L584.7,21.6 L585.2,21.58 L585.7,21.56 L586.2,21.54 L586.7,21.52 L587.2,21.5 L587.7,21.48 L588.2,21.46 L588.7,21.44 L589.2,21.42 L589.7,21.4 L590.2,21.38 L590.7,21.37 L591.2,21.35 L591.7,21.33 L592.2,21.31 L592.7,21.29 L593.2,21.28 L593.7,21.26 L594.2,21.24 L594.7,21.22 L595.2,21.21 L595.7,21.19 L596.2,21.17 L596.7,21.16 L597.2,21.14 L597.7,21.13 L598.2,21.11 L598.7,21.1 L599.2,21.08 L599.7,21.06 L600.2,21.05 L600.7,21.03 L601.2,21.02 L601.7,21.01 L602.2,20.99 L602.7,20.98 L603.2,20.96 L603.7,20.95 L604.2,20.94 L604.7,20.92 L605.2,20.91 L605.7,20.9 L606.2,20.88 L606.7,20.87 L607.2,20.86 L607.7,20.84 L608.2,20.83 L608.7,20.82 L609.2,20.81 L609.7,20.8 L610.2,20.78 L610.7,20.77 L611.2,20.76 L611.7,20.75 L612.2,20.74 L612.7,20.73 L613.2,20.72 L613.7,20.71 L614.2,20.7 L614.7,20.69 L615.2,20.68 L615.7,20.67 L616.2,20.66 L616.7,20.65 L617.2,20.64 L617.7,20.63 L618.2,20.62 L618.7,20.61 L619.2,20.6 L619.7,20.6 L620.2,20.59 L620.7,20.58 L621.2,20.57 L621.7,20.56 L622.2,20.56 L622.7,20.55 L623.2,20.54 L623.7,20.53 L624.2,20.53 L624.7,20.52 L625.2,20.51 L625.7,20.51 L626.2,20.5 L626.7,20.49 L627.2,20.49 L627.7,20.48 L628.2,20.48 L628.7,20.47 L629.2,20.47 L629.7,20.46 L630.2,20.46 L630.7,20.45 L631.2,20.45 L631.7,20.44 L632.2,20.44 L632.7,20.43 L633.2,20.43 L633.7,20.42 L634.2,20.42 L634.7,20.42 L635.2,20.41 L635.7,20.41 L636.2,20.41 L636.7,20.4 L637.2,20.4 L637.7,20.4 L638.2,20.4 L638.7,20.39 L639.2,20.39 L639.7,20.39 L640.2,20.39 L640.7,20.39 L641.2,20.38 L641.7,20.38 L642.2,20.38 L642.7,20.38 L643.2,20.38 L643.7,20.38 L644.2,20.38 L644.7,20.38 L645.2,20.38 L645.7,20.38 L646.2,20.38 L646.7,20.38 L647.2,20.38 L647.7,20.38 L648.2,20.38 L648.7,20.38 L649.2,20.38 L649.7,20.38 L650.2,20.38 L650.7,20.38 L651.2,20.38 L651.7,20.38 L652.2,20.39 L652.7,20.39 L653.2,20.39 L653.7,20.39 L654.2,20.39 L654.7,20.4 L655.2,20.4 L655.7,20.4 L656.2,20.4 L656.7,20.41 L657.2,20.41 L657.7,20.41 L658.2,20.42 L658.7,20.42 L659.2,20.42 L659.7,20.43 L660.2,20.43 L660.7,20.43 L661.2,20.44 L661.7,20.44 L662.2,20.45 L662.7,20.45 L663.2,20.46 L663.7,20.46 L664.2,20.47 L664.7,20.47 L665.2,20.48 L665.7,20.48 L666.2,20.49 L666.7,20.49 L667.2,20.5 L667.7,20.51 L668.2,20.51 L668.7,20.52 L669.2,20.53 L669.7,20.53 L670.2,20.54 L670.7,20.55 L671.2,20.55 L671.7,20.56 L672.1,20.57 L672.1,20.5 L672.1,156.3 L672,156.38 L671.5,156.79 L671,157.2 L670.5,157.61 L670,158.02 L669.5,158.42 L669,158.83 L668.5,159.23 L668,159.63 L667.5,160.04 L667,160.44 L666.5,160.84 L666,161.24 L665.5,161.64 L665,162.04 L664.5,162.43 L664,162.83 L663.5,163.23 L663,163.62 L662.5,164.02 L662,164.41 L661.5,164.8 L661,165.19 L660.5,165.58 L660,165.97 L659.5,166.36 L659,166.75 L658.5,167.14 L658,167.53 L657.5,167.91 L657,168.3 L656.5,168.68 L656,169.06 L655.5,169.45 L655,169.83 L654.5,170.21 L654,170.59 L653.5,170.97 L653,171.35 L652.5,171.72 L652,172.1 L651.5,172.48 L651,172.85 L650.5,173.23 L650,173.6 L649.5,173.97 L649,174.34 L648.5,174.72 L648,175.09 L647.5,175.45 L647,175.82 L646.5,176.19 L646,176.56 L645.5,176.92 L645,177.29 L644.5,177.65 L644,178.02 L643.5,178.38 L643,178.74 L642.5,179.1 L642,179.46 L641.5,179.82 L641,180.18 L640.5,180.54 L640,180.9 L639.5,181.25 L639,181.61 L638.5,181.97 L638,182.32 L637.5,182.67 L637,183.02 L636.5,183.38 L636,183.73 L635.5,184.08 L635,184.43 L634.5,184.77 L634,185.12 L633.5,185.47 L633,185.81 L632.5,186.16 L632,186.5 L631.5,186.85 L631,187.19 L630.5,187.53 L630,187.87 L629.5,188.21 L629,188.55 L628.5,188.89 L628,189.23 L627.5,189.57 L627,189.9 L626.5,190.24 L626,190.57 L625.5,190.91 L625,191.24 L624.5,191.57 L624,191.91 L623.5,192.24 L623,192.57 L622.5,192.9 L622,193.22 L621.5,193.55 L621,193.88 L620.5,194.21 L620,194.53 L619.5,194.86 L619,195.18 L618.5,195.5 L618,195.82 L617.5,196.15 L617,196.47 L616.5,196.79 L616,197.11 L615.5,197.42 L615,197.74 L614.5,198.06 L614,198.37 L613.5,198.69 L613,199 L612.5,199.32 L612,199.63 L611.5,199.94 L611,200.25 L610.5,200.56 L610,200.87 L609.5,201.18 L609,201.49 L608.5,201.8 L608,202.1 L607.5,202.41 L607,202.72 L606.5,203.02 L606,203.32 L605.5,203.63 L605,203.93 L604.5,204.23 L604,204.53 L603.5,204.83 L603,205.13 L602.5,205.43 L602,205.72 L601.5,206.02 L601,206.32 L600.5,206.61 L600,206.91 L599.5,207.2 L599,207.49 L598.5,207.78 L598,208.08 L597.5,208.37 L597,208.66 L596.5,208.95 L596,209.23 L595.5,209.52 L595,209.81 L594.5,210.09 L594,210.38 L593.5,210.66 L593,210.95 L592.5,211.23 L592,211.51 L591.5,211.79 L591,212.07 L590.5,212.35 L590,212.63 L589.5,212.91 L589,213.19 L588.5,213.47 L588,213.74 L587.5,214.02 L587,214.29 L586.5,214.57 L586,214.84 L585.5,215.11 L585,215.38 L584.5,215.65 L584,215.92 L583.5,216.19 L583,216.46 L582.5,216.73 L582,217 L581.5,217.26 L581,217.53 L580.5,217.79 L580,218.06 L579.5,218.32 L579,218.58 L578.5,218.85 L578,219.11 L577.5,219.37 L577,219.63 L576.5,219.89 L576,220.15 L575.5,220.4 L575,220.66 L574.5,220.92 L574,221.17 L573.5,221.43 L573,221.68 L572.5,221.93 L572,222.18 L571.5,222.44 L571,222.69 L570.5,222.94 L570,223.19 L569.5,223.44 L569,223.68 L568.5,223.93 L568,224.18 L567.5,224.42 L567,224.67 L566.5,224.91 L566,225.16 L565.5,225.4 L565,225.64 L564.5,225.88 L564,226.12 L563.5,226.36 L563,226.6 L562.5,226.84 L562,227.08 L561.5,227.32 L561,227.55 L560.5,227.79 L560,228.02 L559.5,228.26 L559,228.49 L558.5,228.72 L558,228.96 L557.5,229.19 L557,229.42 L556.5,229.65 L556,229.88 L555.5,230.1 L555,230.33 L554.5,230.56 L554,230.79 L553.5,231.01 L553,231.24 L552.5,231.46 L552,231.68 L551.5,231.91 L551,232.13 L550.5,232.35 L550,232.57 L549.5,232.79 L549,233.01 L548.5,233.23 L548,233.45 L547.5,233.66 L547,233.88 L546.5,234.09 L546,234.31 L545.5,234.52 L545,234.74 L544.5,234.95 L544,235.16 L543.5,235.37 L543,235.58 L542.5,235.79 L542,236 L541.5,236.21 L541,236.42 L540.5,236.63 L540,236.83 L539.5,237.04 L539,237.24 L538.5,237.45 L538,237.65 L537.5,237.85 L537,238.06 L536.5,238.26 L536,238.46 L535.5,238.66 L535,238.86 L534.5,239.06 L534,239.26 L533.5,239.45 L533,239.65 L532.5,239.85 L532,240.04 L531.5,240.24 L531,240.43 L530.5,240.62 L530,240.82 L529.5,241.01 L529,241.2 L528.5,241.39 L528,241.58 L527.5,241.77 L527,241.96 L526.5,242.15 L526,242.33 L525.5,242.52 L525,242.7 L524.5,242.89 L524,243.07 L523.5,243.26 L523,243.44 L522.5,243.62 L522,243.8 L521.5,243.99 L521,244.17 L520.5,244.35 L520,244.52 L519.5,244.7 L519,244.88 L518.5,245.06 L518,245.23 L517.5,245.41 L517,245.58 L516.5,245.76 L516,245.93 L515.5,246.1 L515,246.28 L514.5,246.45 L514,246.62 L513.5,246.79 L513,246.96 L512.5,247.13 L512,247.29 L511.5,247.46 L511,247.63 L510.5,247.8 L510,247.96 L509.5,248.13 L509,248.29 L508.5,248.45 L508,248.62 L507.5,248.78 L507,248.94 L506.5,249.1 L506,249.26 L505.5,249.42 L505,249.58 L504.5,249.74 L504,249.89 L503.5,250.05 L503,250.21 L502.5,250.36 L502,250.52 L501.5,250.67 L501,250.83 L500.5,250.98 L500,251.13 L499.5,251.28 L499,251.43 L498.5,251.58 L498,251.73 L497.5,251.88 L497,252.03 L496.5,252.18 L496,252.32 L495.5,252.47 L495,252.62 L494.5,252.76 L494,252.91 L493.5,253.05 L493,253.19 L492.5,253.34 L492,253.48 L491.5,253.62 L491,253.76 L490.5,253.9 L490,254.04 L489.5,254.18 L489,254.31 L488.5,254.45 L488,254.59 L487.5,254.72 L487,254.86 L486.5,254.99 L486,255.13 L485.5,255.26 L485,255.39 L484.5,255.53 L484,255.66 L483.5,255.79 L483,255.92 L482.5,256.05 L482,256.18 L481.5,256.31 L481,256.43 L480.5,256.56 L480,256.69 L479.5,256.81 L479,256.94 L478.5,257.06 L478,257.19 L477.5,257.31 L477,257.43 L476.5,257.55 L476,257.67 L475.5,257.8 L475,257.92 L474.5,258.03 L474,258.15 L473.5,258.27 L473,258.39 L472.5,258.51 L472,258.62 L471.5,258.74 L471,258.85 L470.5,258.97 L470,259.08 L469.5,259.19 L469,259.31 L468.5,259.42 L468,259.53 L467.5,259.64 L467,259.75 L466.5,259.86 L466,259.97 L465.5,260.08 L465,260.19 L464.5,260.29 L464,260.4 L463.5,260.5 L463,260.61 L462.5,260.71 L462,260.82 L461.5,260.92 L461,261.02 L460.5,261.13 L460,261.23 L459.5,261.33 L459,261.43 L458.5,261.53 L458,261.63 L457.5,261.72 L457,261.82 L456.5,261.92 L456,262.02 L455.5,262.11 L455,262.21 L454.5,262.3 L454,262.4 L453.5,262.49 L453,262.58 L452.5,262.67 L452,262.77 L451.5,262.86 L451,262.95 L450.5,263.04 L450,263.13 L449.5,263.22 L449,263.3 L448.5,263.39 L448,263.48 L447.5,263.56 L447,263.65 L446.5,263.73 L446,263.82 L445.5,263.9 L445,263.99 L444.5,264.07 L444,264.15 L443.5,264.23 L443,264.31 L442.5,264.39 L442,264.47 L441.5,264.55 L441,264.63 L440.5,264.71 L440,264.79 L439.5,264.86 L439,264.94 L438.5,265.01 L438,265.09 L437.5,265.16 L437,265.24 L436.5,265.31 L436,265.38 L435.5,265.45 L435,265.53 L434.5,265.6 L434,265.67 L433.5,265.74 L433,265.81 L432.5,265.87 L432,265.94 L431.5,266.01 L431,266.08 L430.5,266.14 L430,266.21 L429.5,266.27 L429,266.34 L428.5,266.4 L428,266.46 L427.5,266.53 L427,266.59 L426.5,266.65 L426,266.71 L425.5,266.77 L425,266.83 L424.5,266.89 L424,266.95 L423.5,267.01 L423,267.07 L422.5,267.12 L422,267.18 L421.5,267.23 L421,267.29 L420.5,267.34 L419.6,262 L418.7,220 L418.2,154 L415.6,154 Z" fill="#80b9d8"/>
<path d="M415.6,42.2 L418.4,42.2 L419,48 L419,205 L419.3,214 L419.9,219.5 L420.8,221.6 L421.9,222.1 L422.4,221.91 L422.9,221.72 L423.4,221.52 L423.9,221.32 L424.4,221.11 L424.9,220.9 L425.4,220.68 L425.9,220.46 L426.4,220.24 L426.9,220.01 L427.4,219.78 L427.9,219.54 L428.4,219.3 L428.9,219.06 L429.4,218.81 L429.9,218.56 L430.4,218.3 L430.9,218.04 L431.4,217.78 L431.9,217.51 L432.4,217.24 L432.9,216.96 L433.4,216.68 L433.9,216.4 L434.4,216.12 L434.9,215.83 L435.4,215.53 L435.9,215.23 L436.4,214.93 L436.9,214.63 L437.4,214.32 L437.9,214.01 L438.4,213.69 L438.9,213.38 L439.4,213.05 L439.9,212.73 L440.4,212.4 L440.9,212.07 L441.4,211.73 L441.9,211.4 L442.4,211.05 L442.9,210.71 L443.4,210.36 L443.9,210.01 L444.4,209.65 L444.9,209.3 L445.4,208.94 L445.9,208.57 L446.4,208.21 L446.9,207.84 L447.4,207.46 L447.9,207.09 L448.4,206.71 L448.9,206.33 L449.4,205.94 L449.9,205.56 L450.4,205.17 L450.9,204.78 L451.4,204.38 L451.9,203.98 L452.4,203.58 L452.9,203.18 L453.4,202.77 L453.9,202.36 L454.4,201.95 L454.9,201.54 L455.4,201.12 L455.9,200.7 L456.4,200.28 L456.9,199.86 L457.4,199.43 L457.9,199 L458.4,198.57 L458.9,198.14 L459.4,197.71 L459.9,197.27 L460.4,196.83 L460.9,196.39 L461.4,195.94 L461.9,195.5 L462.4,195.05 L462.9,194.6 L463.4,194.14 L463.9,193.69 L464.4,193.23 L464.9,192.77 L465.4,192.31 L465.9,191.85 L466.4,191.39 L466.9,190.92 L467.4,190.45 L467.9,189.98 L468.4,189.51 L468.9,189.04 L469.4,188.56 L469.9,188.09 L470.4,187.61 L470.9,187.13 L471.4,186.65 L471.9,186.16 L472.4,185.68 L472.9,185.19 L473.4,184.7 L473.9,184.21 L474.4,183.72 L474.9,183.23 L475.4,182.74 L475.9,182.24 L476.4,181.75 L476.9,181.25 L477.4,180.75 L477.9,180.25 L478.4,179.75 L478.9,179.24 L479.4,178.74 L479.9,178.24 L480.4,177.73 L480.9,177.22 L481.4,176.72 L481.9,176.21 L482.4,175.7 L482.9,175.18 L483.4,174.67 L483.9,174.16 L484.4,173.65 L484.9,173.13 L485.4,172.62 L485.9,172.1 L486.4,171.58 L486.9,171.06 L487.4,170.55 L487.9,170.03 L488.4,169.51 L488.9,168.99 L489.4,168.47 L489.9,167.94 L490.4,167.42 L490.9,166.9 L491.4,166.38 L491.9,165.85 L492.4,165.33 L492.9,164.8 L493.4,164.28 L493.9,163.75 L494.4,163.23 L494.9,162.7 L495.4,162.18 L495.9,161.65 L496.4,161.12 L496.9,160.6 L497.4,160.07 L497.9,159.54 L498.4,159.02 L498.9,158.49 L499.4,157.96 L499.9,157.43 L500.4,156.91 L500.9,156.38 L501.4,155.85 L501.9,155.33 L502.4,154.8 L502.9,154.27 L503.4,153.75 L503.9,153.22 L504.4,152.69 L504.9,152.17 L505.4,151.64 L505.9,151.12 L506.4,150.59 L506.9,150.07 L507.4,149.54 L507.9,149.02 L508.4,148.5 L508.9,147.97 L509.4,147.45 L509.9,146.93 L510.4,146.41 L510.9,145.89 L511.4,145.37 L511.9,144.85 L512.4,144.33 L512.9,143.82 L513.4,143.3 L513.9,142.78 L514.4,142.27 L514.9,141.75 L515.4,141.24 L515.9,140.73 L516.4,140.22 L516.9,139.7 L517.4,139.19 L517.9,138.69 L518.4,138.18 L518.9,137.67 L519.4,137.17 L519.9,136.66 L520.4,136.16 L520.9,135.65 L521.4,135.15 L521.9,134.65 L522.4,134.15 L522.9,133.65 L523.4,133.16 L523.9,132.66 L524.4,132.16 L524.9,131.67 L525.4,131.18 L525.9,130.68 L526.4,130.19 L526.9,129.7 L527.4,129.21 L527.9,128.72 L528.4,128.24 L528.9,127.75 L529.4,127.27 L529.9,126.78 L530.4,126.3 L530.9,125.82 L531.4,125.34 L531.9,124.86 L532.4,124.38 L532.9,123.9 L533.4,123.42 L533.9,122.95 L534.4,122.47 L534.9,122 L535.4,121.53 L535.9,121.06 L536.4,120.59 L536.9,120.12 L537.4,119.65 L537.9,119.19 L538.4,118.72 L538.9,118.26 L539.4,117.79 L539.9,117.33 L540.4,116.87 L540.9,116.41 L541.4,115.95 L541.9,115.49 L542.4,115.04 L542.9,114.58 L543.4,114.13 L543.9,113.68 L544.4,113.22 L544.9,112.77 L545.4,112.32 L545.9,111.88 L546.4,111.43 L546.9,110.98 L547.4,110.54 L547.9,110.09 L548.4,109.65 L548.9,109.21 L549.4,108.77 L549.9,108.33 L550.4,107.89 L550.9,107.46 L551.4,107.02 L551.9,106.59 L552.4,106.16 L552.9,105.72 L553.4,105.29 L553.9,104.86 L554.4,104.44 L554.9,104.01 L555.4,103.58 L555.9,103.16 L556.4,102.74 L556.9,102.31 L557.4,101.89 L557.9,101.47 L558.4,101.05 L558.9,100.64 L559.4,100.22 L559.9,99.81 L560.4,99.39 L560.9,98.98 L561.4,98.57 L561.9,98.16 L562.4,97.75 L562.9,97.35 L563.4,96.94 L563.9,96.54 L564.4,96.13 L564.9,95.73 L565.4,95.33 L565.9,94.93 L566.4,94.53 L566.9,94.14 L567.4,93.74 L567.9,93.35 L568.4,92.95 L568.9,92.56 L569.4,92.17 L569.9,91.78 L570.4,91.39 L570.9,91.01 L571.4,90.62 L571.9,90.24 L572.4,89.85 L572.9,89.47 L573.4,89.09 L573.9,88.71 L574.4,88.34 L574.9,87.96 L575.4,87.59 L575.9,87.21 L576.4,86.84 L576.9,86.47 L577.4,86.1 L577.9,85.73 L578.4,85.37 L578.9,85 L579.4,84.64 L579.9,84.28 L580.4,83.91 L580.9,83.55 L581.4,83.2 L581.9,82.84 L582.4,82.48 L582.9,82.13 L583.4,81.78 L583.9,81.42 L584.4,81.07 L584.9,80.73 L585.4,80.38 L585.9,80.03 L586.4,79.69 L586.9,79.34 L587.4,79 L587.9,78.66 L588.4,78.32 L588.9,77.99 L589.4,77.65 L589.9,77.31 L590.4,76.98 L590.9,76.65 L591.4,76.32 L591.9,75.99 L592.4,75.66 L592.9,75.34 L593.4,75.01 L593.9,74.69 L594.4,74.37 L594.9,74.04 L595.4,73.73 L595.9,73.41 L596.4,73.09 L596.9,72.78 L597.4,72.46 L597.9,72.15 L598.4,71.84 L598.9,71.53 L599.4,71.23 L599.9,70.92 L600.4,70.62 L600.9,70.31 L601.4,70.01 L601.9,69.71 L602.4,69.41 L602.9,69.12 L603.4,68.82 L603.9,68.53 L604.4,68.23 L604.9,67.94 L605.4,67.65 L605.9,67.37 L606.4,67.08 L606.9,66.79 L607.4,66.51 L607.9,66.23 L608.4,65.95 L608.9,65.67 L609.4,65.39 L609.9,65.12 L610.4,64.84 L610.9,64.57 L611.4,64.3 L611.9,64.03 L612.4,63.76 L612.9,63.49 L613.4,63.23 L613.9,62.97 L614.4,62.7 L614.9,62.44 L615.4,62.19 L615.9,61.93 L616.4,61.67 L616.9,61.42 L617.4,61.17 L617.9,60.92 L618.4,60.67 L618.9,60.42 L619.4,60.17 L619.9,59.93 L620.4,59.68 L620.9,59.44 L621.4,59.2 L621.9,58.97 L622.4,58.73 L622.9,58.49 L623.4,58.26 L623.9,58.03 L624.4,57.8 L624.9,57.57 L625.4,57.34 L625.9,57.12 L626.4,56.89 L626.9,56.67 L627.4,56.45 L627.9,56.23 L628.4,56.02 L628.9,55.8 L629.4,55.59 L629.9,55.37 L630.4,55.16 L630.9,54.96 L631.4,54.75 L631.9,54.54 L632.4,54.34 L632.9,54.14 L633.4,53.94 L633.9,53.74 L634.4,53.54 L634.9,53.34 L635.4,53.15 L635.9,52.96 L636.4,52.77 L636.9,52.58 L637.4,52.39 L637.9,52.21 L638.4,52.02 L638.9,51.84 L639.4,51.66 L639.9,51.48 L640.4,51.31 L640.9,51.13 L641.4,50.96 L641.9,50.79 L642.4,50.62 L642.9,50.45 L643.4,50.28 L643.9,50.12 L644.4,49.95 L644.9,49.79 L645.4,49.63 L645.9,49.47 L646.4,49.32 L646.9,49.16 L647.4,49.01 L647.9,48.86 L648.4,48.71 L648.9,48.56 L649.4,48.42 L649.9,48.27 L650.4,48.13 L650.9,47.99 L651.4,47.85 L651.9,47.72 L652.4,47.58 L652.9,47.45 L653.4,47.32 L653.9,47.19 L654.4,47.06 L654.9,46.93 L655.4,46.81 L655.9,46.69 L656.4,46.56 L656.9,46.45 L657.4,46.33 L657.9,46.21 L658.4,46.1 L658.9,45.99 L659.4,45.88 L659.9,45.77 L660.4,45.66 L660.9,45.56 L661.4,45.46 L661.9,45.36 L662.4,45.26 L662.9,45.16 L663.4,45.07 L663.9,44.97 L664.4,44.88 L664.9,44.79 L665.4,44.7 L665.9,44.62 L666.4,44.53 L666.9,44.45 L667.4,44.37 L667.9,44.29 L668.4,44.22 L668.9,44.14 L669.4,44.07 L669.9,44 L670.4,43.93 L670.9,43.86 L671.4,43.8 L671.9,43.73 L672.4,43.67" fill="none" stroke="#0173b2" stroke-width="2.0" stroke-linejoin="round" stroke-linecap="round"/>
<path d="M415.6,20.5 L415.6,277.5 L672.45,277.5" fill="none" stroke="#262626" stroke-width="1.25" stroke-linecap="square"/>
<line x1="409.6" y1="277.5" x2="415.6" y2="277.5" stroke="#262626" stroke-width="1.25"/>
<text x="406" y="283.7" text-anchor="end">0.0</text>
<line x1="409.6" y1="226.1" x2="415.6" y2="226.1" stroke="#262626" stroke-width="1.25"/>
<text x="406" y="232.3" text-anchor="end">0.2</text>
<line x1="409.6" y1="174.7" x2="415.6" y2="174.7" stroke="#262626" stroke-width="1.25"/>
<text x="406" y="180.9" text-anchor="end">0.4</text>
<line x1="409.6" y1="123.3" x2="415.6" y2="123.3" stroke="#262626" stroke-width="1.25"/>
<text x="406" y="129.5" text-anchor="end">0.6</text>
<line x1="409.6" y1="71.9" x2="415.6" y2="71.9" stroke="#262626" stroke-width="1.25"/>
<text x="406" y="78.1" text-anchor="end">0.8</text>
<line x1="409.6" y1="20.5" x2="415.6" y2="20.5" stroke="#262626" stroke-width="1.25"/>
<text x="406" y="26.7" text-anchor="end">1.0</text>
<line x1="415.6" y1="277.5" x2="415.6" y2="283.2" stroke="#262626" stroke-width="1.25"/>
<text x="415.6" y="298.5" text-anchor="middle">0</text>
<line x1="457.82" y1="277.5" x2="457.82" y2="283.2" stroke="#262626" stroke-width="1.25"/>
<text x="457.82" y="298.5" text-anchor="middle">60</text>
<line x1="500.04" y1="277.5" x2="500.04" y2="283.2" stroke="#262626" stroke-width="1.25"/>
<text x="500.04" y="298.5" text-anchor="middle">120</text>
<line x1="542.27" y1="277.5" x2="542.27" y2="283.2" stroke="#262626" stroke-width="1.25"/>
<text x="542.27" y="298.5" text-anchor="middle">180</text>
<line x1="584.49" y1="277.5" x2="584.49" y2="283.2" stroke="#262626" stroke-width="1.25"/>
<text x="584.49" y="298.5" text-anchor="middle">240</text>
<line x1="626.71" y1="277.5" x2="626.71" y2="283.2" stroke="#262626" stroke-width="1.25"/>
<text x="626.71" y="298.5" text-anchor="middle">300</text>
<line x1="668.93" y1="277.5" x2="668.93" y2="283.2" stroke="#262626" stroke-width="1.25"/>
<text x="668.93" y="298.5" text-anchor="middle">360</text>
<text x="544.03" y="317" text-anchor="middle">Time since vaccination (days)</text>
<text transform="translate(377.7,149) rotate(-90)" text-anchor="middle">Relative susceptibility</text>
<rect x="164.56" y="347.5" width="26.82" height="115.9" fill="#bfbfbf"/>
<rect x="292.86" y="347.5" width="26.82" height="115.9" fill="#bfbfbf"/>
<path d="M68.6,444.3 L68.9,443.67 L69.4,443.15 L69.9,442.62 L70.4,442.09 L70.9,441.56 L71.4,441.04 L71.9,440.51 L72.4,439.97 L72.9,439.44 L73.4,438.91 L73.9,438.38 L74.4,437.84 L74.9,437.31 L75.4,436.78 L75.9,436.24 L76.4,435.7 L76.9,435.17 L77.4,434.63 L77.9,434.09 L78.4,433.56 L78.9,433.02 L79.4,432.48 L79.9,431.94 L80.4,431.41 L80.9,430.87 L81.4,430.33 L81.9,429.79 L82.4,429.25 L82.9,428.71 L83.4,428.18 L83.9,427.64 L84.4,427.1 L84.9,426.56 L85.4,426.02 L85.9,425.49 L86.4,424.95 L86.9,424.41 L87.4,423.88 L87.9,423.34 L88.4,422.8 L88.9,422.27 L89.4,421.73 L89.9,421.2 L90.4,420.66 L90.9,420.13 L91.4,419.6 L91.9,419.07 L92.4,418.54 L92.9,418.01 L93.4,417.48 L93.9,416.95 L94.4,416.42 L94.9,415.89 L95.4,415.37 L95.9,414.84 L96.4,414.32 L96.9,413.79 L97.4,413.27 L97.9,412.75 L98.4,412.23 L98.9,411.71 L99.4,411.19 L99.9,410.68 L100.4,410.16 L100.9,409.65 L101.4,409.14 L101.9,408.62 L102.4,408.12 L102.9,407.61 L103.4,407.1 L103.9,406.6 L104.4,406.09 L104.9,405.59 L105.4,405.09 L105.9,404.59 L106.4,404.1 L106.9,403.6 L107.4,403.11 L107.9,402.62 L108.4,402.13 L108.9,401.64 L109.4,401.16 L109.9,400.67 L110.4,400.19 L110.9,399.71 L111.4,399.23 L111.9,398.76 L112.4,398.29 L112.9,397.82 L113.4,397.35 L113.9,396.88 L114.4,396.42 L114.9,395.96 L115.4,395.5 L115.9,395.04 L116.4,394.59 L116.9,394.13 L117.4,393.69 L117.9,393.24 L118.4,392.79 L118.9,392.35 L119.4,391.91 L119.9,391.48 L120.4,391.05 L120.9,390.62 L121.4,390.19 L121.9,389.76 L122.4,389.34 L122.9,388.92 L123.4,388.51 L123.9,388.09 L124.4,387.68 L124.9,387.27 L125.4,386.87 L125.9,386.47 L126.4,386.07 L126.9,385.67 L127.4,385.28 L127.9,384.89 L128.4,384.5 L128.9,384.11 L129.4,383.73 L129.9,383.35 L130.4,382.98 L130.9,382.6 L131.4,382.23 L131.9,381.86 L132.4,381.5 L132.9,381.14 L133.4,380.78 L133.9,380.42 L134.4,380.07 L134.9,379.72 L135.4,379.38 L135.9,379.03 L136.4,378.69 L136.9,378.35 L137.4,378.02 L137.9,377.69 L138.4,377.36 L138.9,377.03 L139.4,376.71 L139.9,376.39 L140.4,376.07 L140.9,375.76 L141.4,375.45 L141.9,375.14 L142.4,374.84 L142.9,374.54 L143.4,374.24 L143.9,373.94 L144.4,373.65 L144.9,373.36 L145.4,373.08 L145.9,372.79 L146.4,372.51 L146.9,372.24 L147.4,371.96 L147.9,371.69 L148.4,371.43 L148.9,371.16 L149.4,370.9 L149.9,370.65 L150.4,370.39 L150.9,370.14 L151.4,369.89 L151.9,369.65 L152.4,369.41 L152.9,369.17 L153.4,368.94 L153.9,368.7 L154.4,368.48 L154.9,368.25 L155.4,368.03 L155.9,367.81 L156.4,367.6 L156.9,367.38 L157.4,367.17 L157.9,366.97 L158.4,366.77 L158.9,366.57 L159.4,366.37 L159.9,366.18 L160.4,365.99 L160.9,365.81 L161.4,365.62 L161.9,365.45 L162.4,365.27 L162.9,365.1 L163.4,364.93 L163.9,364.76 L164.4,364.6 L164.9,364.44 L165.4,364.29 L165.6,364.23 L192.7,448.36 L193.2,447.84 L193.7,447.32 L194.2,446.81 L194.7,446.29 L195.2,445.77 L195.7,445.24 L196.2,444.72 L196.7,444.2 L197.2,443.67 L197.7,443.15 L198.2,442.62 L198.7,442.09 L199.2,441.56 L199.7,441.04 L200.2,440.51 L200.7,439.97 L201.2,439.44 L201.7,438.91 L202.2,438.38 L202.7,437.84 L203.2,437.31 L203.7,436.78 L204.2,436.24 L204.7,435.7 L205.2,435.17 L205.7,434.63 L206.2,434.09 L206.7,433.56 L207.2,433.02 L207.7,432.48 L208.2,431.94 L208.7,431.41 L209.2,430.87 L209.7,430.33 L210.2,429.79 L210.7,429.25 L211.2,428.71 L211.7,428.18 L212.2,427.64 L212.7,427.1 L213.2,426.56 L213.7,426.02 L214.2,425.49 L214.7,424.95 L215.2,424.41 L215.7,423.88 L216.2,423.34 L216.7,422.8 L217.2,422.27 L217.7,421.73 L218.2,421.2 L218.7,420.66 L219.2,420.13 L219.7,419.6 L220.2,419.07 L220.7,418.54 L221.2,418.01 L221.7,417.48 L222.2,416.95 L222.7,416.42 L223.2,415.89 L223.7,415.37 L224.2,414.84 L224.7,414.32 L225.2,413.79 L225.7,413.27 L226.2,412.75 L226.7,412.23 L227.2,411.71 L227.7,411.19 L228.2,410.68 L228.7,410.16 L229.2,409.65 L229.7,409.14 L230.2,408.62 L230.7,408.12 L231.2,407.61 L231.7,407.1 L232.2,406.6 L232.7,406.09 L233.2,405.59 L233.7,405.09 L234.2,404.59 L234.7,404.1 L235.2,403.6 L235.7,403.11 L236.2,402.62 L236.7,402.13 L237.2,401.64 L237.7,401.16 L238.2,400.67 L238.7,400.19 L239.2,399.71 L239.7,399.23 L240.2,398.76 L240.7,398.29 L241.2,397.82 L241.7,397.35 L242.2,396.88 L242.7,396.42 L243.2,395.96 L243.7,395.5 L244.2,395.04 L244.7,394.59 L245.2,394.13 L245.7,393.69 L246.2,393.24 L246.7,392.79 L247.2,392.35 L247.7,391.91 L248.2,391.48 L248.7,391.05 L249.2,390.62 L249.7,390.19 L250.2,389.76 L250.7,389.34 L251.2,388.92 L251.7,388.51 L252.2,388.09 L252.7,387.68 L253.2,387.27 L253.7,386.87 L254.2,386.47 L254.7,386.07 L255.2,385.67 L255.7,385.28 L256.2,384.89 L256.7,384.5 L257.2,384.11 L257.7,383.73 L258.2,383.35 L258.7,382.98 L259.2,382.6 L259.7,382.23 L260.2,381.86 L260.7,381.5 L261.2,381.14 L261.7,380.78 L262.2,380.42 L262.7,380.07 L263.2,379.72 L263.7,379.38 L264.2,379.03 L264.7,378.69 L265.2,378.35 L265.7,378.02 L266.2,377.69 L266.7,377.36 L267.2,377.03 L267.7,376.71 L268.2,376.39 L268.7,376.07 L269.2,375.76 L269.7,375.45 L270.2,375.14 L270.7,374.84 L271.2,374.54 L271.7,374.24 L272.2,373.94 L272.7,373.65 L273.2,373.36 L273.7,373.08 L274.2,372.79 L274.7,372.51 L275.2,372.24 L275.7,371.96 L276.2,371.69 L276.7,371.43 L277.2,371.16 L277.7,370.9 L278.2,370.65 L278.7,370.39 L279.2,370.14 L279.7,369.89 L280.2,369.65 L280.7,369.41 L281.2,369.17 L281.7,368.94 L282.2,368.7 L282.7,368.48 L283.2,368.25 L283.7,368.03 L284.2,367.81 L284.7,367.6 L285.2,367.38 L285.7,367.17 L286.2,366.97 L286.7,366.77 L287.2,366.57 L287.7,366.37 L288.2,366.18 L288.7,365.99 L289.2,365.81 L289.7,365.62 L290.2,365.45 L290.7,365.27 L291.2,365.1 L291.7,364.93 L292.2,364.76 L292.7,364.6 L293.2,364.44 L293.7,364.29 L293.9,364.23 L320.9,447.6 L325.3,444.6" fill="none" stroke="#0173b2" stroke-width="2.0" stroke-linejoin="round" stroke-linecap="round"/>
<path d="M68.6,347.5 L68.6,463.4 L325.2,463.4" fill="none" stroke="#262626" stroke-width="1.25" stroke-linecap="square"/>
<line x1="62.6" y1="463.4" x2="68.6" y2="463.4" stroke="#262626" stroke-width="1.25"/>
<text x="59" y="469.6" text-anchor="end">0.5</text>
<line x1="62.6" y1="440.22" x2="68.6" y2="440.22" stroke="#262626" stroke-width="1.25"/>
<text x="59" y="446.42" text-anchor="end">0.6</text>
<line x1="62.6" y1="417.04" x2="68.6" y2="417.04" stroke="#262626" stroke-width="1.25"/>
<text x="59" y="423.24" text-anchor="end">0.7</text>
<line x1="62.6" y1="393.86" x2="68.6" y2="393.86" stroke="#262626" stroke-width="1.25"/>
<text x="59" y="400.06" text-anchor="end">0.8</text>
<line x1="62.6" y1="370.68" x2="68.6" y2="370.68" stroke="#262626" stroke-width="1.25"/>
<text x="59" y="376.88" text-anchor="end">0.9</text>
<line x1="62.6" y1="347.5" x2="68.6" y2="347.5" stroke="#262626" stroke-width="1.25"/>
<text x="59" y="353.7" text-anchor="end">1.0</text>
<line x1="68.6" y1="463.4" x2="68.6" y2="468.9" stroke="#262626" stroke-width="1.25"/>
<line x1="79.5" y1="463.4" x2="79.5" y2="468.9" stroke="#262626" stroke-width="1.25"/>
<line x1="89.34" y1="463.4" x2="89.34" y2="468.9" stroke="#262626" stroke-width="1.25"/>
<line x1="100.24" y1="463.4" x2="100.24" y2="468.9" stroke="#262626" stroke-width="1.25"/>
<line x1="110.78" y1="463.4" x2="110.78" y2="468.9" stroke="#262626" stroke-width="1.25"/>
<line x1="121.68" y1="463.4" x2="121.68" y2="468.9" stroke="#262626" stroke-width="1.25"/>
<line x1="132.22" y1="463.4" x2="132.22" y2="468.9" stroke="#262626" stroke-width="1.25"/>
<line x1="143.12" y1="463.4" x2="143.12" y2="468.9" stroke="#262626" stroke-width="1.25"/>
<line x1="154.02" y1="463.4" x2="154.02" y2="468.9" stroke="#262626" stroke-width="1.25"/>
<line x1="164.56" y1="463.4" x2="164.56" y2="468.9" stroke="#262626" stroke-width="1.25"/>
<line x1="175.46" y1="463.4" x2="175.46" y2="468.9" stroke="#262626" stroke-width="1.25"/>
<line x1="186" y1="463.4" x2="186" y2="468.9" stroke="#262626" stroke-width="1.25"/>
<line x1="196.9" y1="463.4" x2="196.9" y2="468.9" stroke="#262626" stroke-width="1.25"/>
<line x1="207.8" y1="463.4" x2="207.8" y2="468.9" stroke="#262626" stroke-width="1.25"/>
<line x1="217.64" y1="463.4" x2="217.64" y2="468.9" stroke="#262626" stroke-width="1.25"/>
<line x1="228.54" y1="463.4" x2="228.54" y2="468.9" stroke="#262626" stroke-width="1.25"/>
<line x1="239.08" y1="463.4" x2="239.08" y2="468.9" stroke="#262626" stroke-width="1.25"/>
<line x1="249.98" y1="463.4" x2="249.98" y2="468.9" stroke="#262626" stroke-width="1.25"/>
<line x1="260.52" y1="463.4" x2="260.52" y2="468.9" stroke="#262626" stroke-width="1.25"/>
<line x1="271.42" y1="463.4" x2="271.42" y2="468.9" stroke="#262626" stroke-width="1.25"/>
<line x1="282.32" y1="463.4" x2="282.32" y2="468.9" stroke="#262626" stroke-width="1.25"/>
<line x1="292.86" y1="463.4" x2="292.86" y2="468.9" stroke="#262626" stroke-width="1.25"/>
<line x1="303.76" y1="463.4" x2="303.76" y2="468.9" stroke="#262626" stroke-width="1.25"/>
<line x1="314.3" y1="463.4" x2="314.3" y2="468.9" stroke="#262626" stroke-width="1.25"/>
<line x1="325.2" y1="463.4" x2="325.2" y2="468.9" stroke="#262626" stroke-width="1.25"/>
<text transform="translate(12.9,405.5) rotate(-90)" text-anchor="middle">Average</text>
<text transform="translate(29.6,405.5) rotate(-90)" text-anchor="middle">susceptibility</text>
<rect x="164.56" y="488.9" width="26.82" height="115.7" fill="#bfbfbf"/>
<rect x="292.86" y="488.9" width="26.82" height="115.7" fill="#bfbfbf"/>
<path d="M68.6,490.8 L68.95,490.81 L69.3,490.83 L69.65,490.87 L70.01,490.93 L70.36,491.01 L70.71,491.1 L71.06,491.2 L71.41,491.33 L71.76,491.47 L72.12,491.62 L72.47,491.8 L72.82,491.99 L73.17,492.19 L73.52,492.41 L73.87,492.65 L74.22,492.9 L74.58,493.17 L74.93,493.45 L75.28,493.76 L75.63,494.07 L75.98,494.4 L76.33,494.75 L76.68,495.11 L77.04,495.49 L77.39,495.88 L77.74,496.29 L78.09,496.71 L78.44,497.15 L78.79,497.6 L79.15,498.07 L79.5,498.55 L79.85,499.05 L80.2,499.56 L80.55,500.08 L80.9,500.62 L81.25,501.17 L81.61,501.73 L81.96,502.31 L82.31,502.9 L82.66,503.5 L83.01,504.12 L83.36,504.75 L83.71,505.39 L84.07,506.04 L84.42,506.71 L84.77,507.38 L85.12,508.07 L85.47,508.77 L85.82,509.48 L86.18,510.21 L86.53,510.94 L86.88,511.68 L87.23,512.44 L87.58,513.2 L87.93,513.98 L88.28,514.76 L88.64,515.55 L88.99,516.35 L89.34,517.17 L89.69,517.99 L90.04,518.81 L90.39,519.65 L90.74,520.49 L91.1,521.35 L91.45,522.21 L91.8,523.07 L92.15,523.95 L92.5,524.83 L92.85,525.72 L93.21,526.61 L93.56,527.51 L93.91,528.41 L94.26,529.32 L94.61,530.24 L94.96,531.16 L95.31,532.08 L95.67,533.01 L96.02,533.94 L96.37,534.88 L96.72,535.82 L97.07,536.76 L97.42,537.71 L97.78,538.66 L98.13,539.61 L98.48,540.56 L98.83,541.52 L99.18,542.47 L99.53,543.43 L99.88,544.39 L100.24,545.35 L100.59,546.31 L100.94,547.27 L101.29,548.23 L101.64,549.19 L101.99,550.15 L102.34,551.1 L102.7,552.06 L103.05,553.01 L103.4,553.97 L103.75,554.92 L104.1,555.86 L104.45,556.81 L104.81,557.75 L105.16,558.69 L105.51,559.62 L105.86,560.55 L106.21,561.48 L106.56,562.4 L106.91,563.32 L107.27,564.23 L107.62,565.14 L107.97,566.04 L108.32,566.94 L108.67,567.83 L109.02,568.71 L109.37,569.59 L109.73,570.46 L110.08,571.32 L110.43,572.18 L110.78,573.03 L111.13,573.87 L111.48,574.7 L111.84,575.53 L112.19,576.34 L112.54,577.15 L112.89,577.95 L113.24,578.73 L113.59,579.51 L113.94,580.28 L114.3,581.04 L114.65,581.79 L115,582.53 L115.35,583.26 L115.7,583.97 L116.05,584.68 L116.4,585.37 L116.76,586.06 L117.11,586.73 L117.46,587.39 L117.81,588.03 L118.16,588.67 L118.51,589.29 L118.87,589.9 L119.22,590.5 L119.57,591.08 L119.92,591.65 L120.27,592.21 L120.62,592.75 L120.97,593.28 L121.33,593.8 L121.68,594.3 L122.03,594.79 L122.38,595.26 L122.73,595.72 L123.08,596.17 L123.44,596.6 L123.79,597.01 L124.14,597.41 L124.49,597.8 L124.84,598.17 L125.19,598.53 L125.54,598.86 L125.9,599.19 L126.25,599.5 L126.6,599.79 L126.95,600.07 L127.3,600.33 L127.65,600.57 L128,600.8 L128.36,601.01 L128.71,601.21 L129.06,601.39 L129.41,601.56 L129.76,601.7 L130.11,601.84 L130.47,601.95 L130.82,602.05 L131.17,602.13 L131.52,602.2 L131.87,602.25 L132.22,602.28 L132.57,602.3 L132.93,602.3 L133.28,602.28 L133.63,602.25 L133.98,602.2 L134.33,602.13 L134.68,602.05 L135.03,601.95 L135.39,601.84 L135.74,601.7 L136.09,601.56 L136.44,601.39 L136.79,601.21 L137.14,601.01 L137.5,600.8 L137.85,600.57 L138.2,600.33 L138.55,600.07 L138.9,599.79 L139.25,599.5 L139.6,599.19 L139.96,598.86 L140.31,598.53 L140.66,598.17 L141.01,597.8 L141.36,597.41 L141.71,597.01 L142.06,596.6 L142.42,596.17 L142.77,595.72 L143.12,595.26 L143.47,594.79 L143.82,594.3 L144.17,593.8 L144.53,593.28 L144.88,592.75 L145.23,592.21 L145.58,591.65 L145.93,591.08 L146.28,590.5 L146.63,589.9 L146.99,589.29 L147.34,588.67 L147.69,588.03 L148.04,587.39 L148.39,586.73 L148.74,586.06 L149.1,585.37 L149.45,584.68 L149.8,583.97 L150.15,583.26 L150.5,582.53 L150.85,581.79 L151.2,581.04 L151.56,580.28 L151.91,579.51 L152.26,578.73 L152.61,577.95 L152.96,577.15 L153.31,576.34 L153.66,575.53 L154.02,574.7 L154.37,573.87 L154.72,573.03 L155.07,572.18 L155.42,571.32 L155.77,570.46 L156.13,569.59 L156.48,568.71 L156.83,567.83 L157.18,566.94 L157.53,566.04 L157.88,565.14 L158.23,564.23 L158.59,563.32 L158.94,562.4 L159.29,561.48 L159.64,560.55 L159.99,559.62 L160.34,558.69 L160.69,557.75 L161.05,556.81 L161.4,555.86 L161.75,554.92 L162.1,553.97 L162.45,553.01 L162.8,552.06 L163.16,551.1 L163.51,550.15 L163.86,549.19 L164.21,548.23 L164.56,547.27 L164.91,546.31 L165.26,545.35 L165.62,544.39 L165.97,543.43 L166.32,542.47 L166.67,541.52 L167.02,540.56 L167.37,539.61 L167.72,538.66 L168.08,537.71 L168.43,536.76 L168.78,535.82 L169.13,534.88 L169.48,533.94 L169.83,533.01 L170.19,532.08 L170.54,531.16 L170.89,530.24 L171.24,529.32 L171.59,528.41 L171.94,527.51 L172.29,526.61 L172.65,525.72 L173,524.83 L173.35,523.95 L173.7,523.07 L174.05,522.21 L174.4,521.35 L174.76,520.49 L175.11,519.65 L175.46,518.81 L175.81,517.99 L176.16,517.17 L176.51,516.35 L176.86,515.55 L177.22,514.76 L177.57,513.98 L177.92,513.2 L178.27,512.44 L178.62,511.68 L178.97,510.94 L179.32,510.21 L179.68,509.48 L180.03,508.77 L180.38,508.07 L180.73,507.38 L181.08,506.71 L181.43,506.04 L181.79,505.39 L182.14,504.75 L182.49,504.12 L182.84,503.5 L183.19,502.9 L183.54,502.31 L183.89,501.73 L184.25,501.17 L184.6,500.62 L184.95,500.08 L185.3,499.56 L185.65,499.05 L186,498.55 L186.35,498.07 L186.71,497.6 L187.06,497.15 L187.41,496.71 L187.76,496.29 L188.11,495.88 L188.46,495.49 L188.82,495.11 L189.17,494.75 L189.52,494.4 L189.87,494.07 L190.22,493.76 L190.57,493.45 L190.92,493.17 L191.28,492.9 L191.63,492.65 L191.98,492.41 L192.33,492.19 L192.68,491.99 L193.03,491.8 L193.38,491.62 L193.74,491.47 L194.09,491.33 L194.44,491.2 L194.79,491.1 L195.14,491.01 L195.49,490.93 L195.85,490.87 L196.2,490.83 L196.55,490.81 L196.9,490.8 L197.25,490.81 L197.6,490.83 L197.95,490.87 L198.31,490.93 L198.66,491.01 L199.01,491.1 L199.36,491.2 L199.71,491.33 L200.06,491.47 L200.42,491.62 L200.77,491.8 L201.12,491.99 L201.47,492.19 L201.82,492.41 L202.17,492.65 L202.52,492.9 L202.88,493.17 L203.23,493.45 L203.58,493.76 L203.93,494.07 L204.28,494.4 L204.63,494.75 L204.98,495.11 L205.34,495.49 L205.69,495.88 L206.04,496.29 L206.39,496.71 L206.74,497.15 L207.09,497.6 L207.45,498.07 L207.8,498.55 L208.15,499.05 L208.5,499.56 L208.85,500.08 L209.2,500.62 L209.55,501.17 L209.91,501.73 L210.26,502.31 L210.61,502.9 L210.96,503.5 L211.31,504.12 L211.66,504.75 L212.01,505.39 L212.37,506.04 L212.72,506.71 L213.07,507.38 L213.42,508.07 L213.77,508.77 L214.12,509.48 L214.48,510.21 L214.83,510.94 L215.18,511.68 L215.53,512.44 L215.88,513.2 L216.23,513.98 L216.58,514.76 L216.94,515.55 L217.29,516.35 L217.64,517.17 L217.99,517.99 L218.34,518.81 L218.69,519.65 L219.04,520.49 L219.4,521.35 L219.75,522.21 L220.1,523.07 L220.45,523.95 L220.8,524.83 L221.15,525.72 L221.51,526.61 L221.86,527.51 L222.21,528.41 L222.56,529.32 L222.91,530.24 L223.26,531.16 L223.61,532.08 L223.97,533.01 L224.32,533.94 L224.67,534.88 L225.02,535.82 L225.37,536.76 L225.72,537.71 L226.08,538.66 L226.43,539.61 L226.78,540.56 L227.13,541.52 L227.48,542.47 L227.83,543.43 L228.18,544.39 L228.54,545.35 L228.89,546.31 L229.24,547.27 L229.59,548.23 L229.94,549.19 L230.29,550.15 L230.64,551.1 L231,552.06 L231.35,553.01 L231.7,553.97 L232.05,554.92 L232.4,555.86 L232.75,556.81 L233.11,557.75 L233.46,558.69 L233.81,559.62 L234.16,560.55 L234.51,561.48 L234.86,562.4 L235.21,563.32 L235.57,564.23 L235.92,565.14 L236.27,566.04 L236.62,566.94 L236.97,567.83 L237.32,568.71 L237.67,569.59 L238.03,570.46 L238.38,571.32 L238.73,572.18 L239.08,573.03 L239.43,573.87 L239.78,574.7 L240.14,575.53 L240.49,576.34 L240.84,577.15 L241.19,577.95 L241.54,578.73 L241.89,579.51 L242.24,580.28 L242.6,581.04 L242.95,581.79 L243.3,582.53 L243.65,583.26 L244,583.97 L244.35,584.68 L244.7,585.37 L245.06,586.06 L245.41,586.73 L245.76,587.39 L246.11,588.03 L246.46,588.67 L246.81,589.29 L247.17,589.9 L247.52,590.5 L247.87,591.08 L248.22,591.65 L248.57,592.21 L248.92,592.75 L249.27,593.28 L249.63,593.8 L249.98,594.3 L250.33,594.79 L250.68,595.26 L251.03,595.72 L251.38,596.17 L251.74,596.6 L252.09,597.01 L252.44,597.41 L252.79,597.8 L253.14,598.17 L253.49,598.53 L253.84,598.86 L254.2,599.19 L254.55,599.5 L254.9,599.79 L255.25,600.07 L255.6,600.33 L255.95,600.57 L256.3,600.8 L256.66,601.01 L257.01,601.21 L257.36,601.39 L257.71,601.56 L258.06,601.7 L258.41,601.84 L258.77,601.95 L259.12,602.05 L259.47,602.13 L259.82,602.2 L260.17,602.25 L260.52,602.28 L260.87,602.3 L261.23,602.3 L261.58,602.28 L261.93,602.25 L262.28,602.2 L262.63,602.13 L262.98,602.05 L263.33,601.95 L263.69,601.84 L264.04,601.7 L264.39,601.56 L264.74,601.39 L265.09,601.21 L265.44,601.01 L265.8,600.8 L266.15,600.57 L266.5,600.33 L266.85,600.07 L267.2,599.79 L267.55,599.5 L267.9,599.19 L268.26,598.86 L268.61,598.53 L268.96,598.17 L269.31,597.8 L269.66,597.41 L270.01,597.01 L270.36,596.6 L270.72,596.17 L271.07,595.72 L271.42,595.26 L271.77,594.79 L272.12,594.3 L272.47,593.8 L272.83,593.28 L273.18,592.75 L273.53,592.21 L273.88,591.65 L274.23,591.08 L274.58,590.5 L274.93,589.9 L275.29,589.29 L275.64,588.67 L275.99,588.03 L276.34,587.39 L276.69,586.73 L277.04,586.06 L277.4,585.37 L277.75,584.68 L278.1,583.97 L278.45,583.26 L278.8,582.53 L279.15,581.79 L279.5,581.04 L279.86,580.28 L280.21,579.51 L280.56,578.73 L280.91,577.95 L281.26,577.15 L281.61,576.34 L281.96,575.53 L282.32,574.7 L282.67,573.87 L283.02,573.03 L283.37,572.18 L283.72,571.32 L284.07,570.46 L284.43,569.59 L284.78,568.71 L285.13,567.83 L285.48,566.94 L285.83,566.04 L286.18,565.14 L286.53,564.23 L286.89,563.32 L287.24,562.4 L287.59,561.48 L287.94,560.55 L288.29,559.62 L288.64,558.69 L288.99,557.75 L289.35,556.81 L289.7,555.86 L290.05,554.92 L290.4,553.97 L290.75,553.01 L291.1,552.06 L291.46,551.1 L291.81,550.15 L292.16,549.19 L292.51,548.23 L292.86,547.27 L293.21,546.31 L293.56,545.35 L293.92,544.39 L294.27,543.43 L294.62,542.47 L294.97,541.52 L295.32,540.56 L295.67,539.61 L296.02,538.66 L296.38,537.71 L296.73,536.76 L297.08,535.82 L297.43,534.88 L297.78,533.94 L298.13,533.01 L298.49,532.08 L298.84,531.16 L299.19,530.24 L299.54,529.32 L299.89,528.41 L300.24,527.51 L300.59,526.61 L300.95,525.72 L301.3,524.83 L301.65,523.95 L302,523.07 L302.35,522.21 L302.7,521.35 L303.06,520.49 L303.41,519.65 L303.76,518.81 L304.11,517.99 L304.46,517.17 L304.81,516.35 L305.16,515.55 L305.52,514.76 L305.87,513.98 L306.22,513.2 L306.57,512.44 L306.92,511.68 L307.27,510.94 L307.62,510.21 L307.98,509.48 L308.33,508.77 L308.68,508.07 L309.03,507.38 L309.38,506.71 L309.73,506.04 L310.09,505.39 L310.44,504.75 L310.79,504.12 L311.14,503.5 L311.49,502.9 L311.84,502.31 L312.19,501.73 L312.55,501.17 L312.9,500.62 L313.25,500.08 L313.6,499.56 L313.95,499.05 L314.3,498.55 L314.65,498.07 L315.01,497.6 L315.36,497.15 L315.71,496.71 L316.06,496.29 L316.41,495.88 L316.76,495.49 L317.12,495.11 L317.47,494.75 L317.82,494.4 L318.17,494.07 L318.52,493.76 L318.87,493.45 L319.22,493.17 L319.58,492.9 L319.93,492.65 L320.28,492.41 L320.63,492.19 L320.98,491.99 L321.33,491.8 L321.68,491.62 L322.04,491.47 L322.39,491.33 L322.74,491.2 L323.09,491.1 L323.44,491.01 L323.79,490.93 L324.15,490.87 L324.5,490.83 L324.85,490.81 L325.2,490.8" fill="none" stroke="#0173b2" stroke-width="2.0"/>
<path d="M68.6,488.3 L68.6,604.6 L325.2,604.6" fill="none" stroke="#262626" stroke-width="1.25" stroke-linecap="square"/>
<line x1="62.6" y1="602.3" x2="68.6" y2="602.3" stroke="#262626" stroke-width="1.25"/>
<text x="59" y="608.5" text-anchor="end">2.0</text>
<line x1="62.6" y1="580" x2="68.6" y2="580" stroke="#262626" stroke-width="1.25"/>
<text x="59" y="586.2" text-anchor="end">2.2</text>
<line x1="62.6" y1="557.7" x2="68.6" y2="557.7" stroke="#262626" stroke-width="1.25"/>
<text x="59" y="563.9" text-anchor="end">2.4</text>
<line x1="62.6" y1="535.4" x2="68.6" y2="535.4" stroke="#262626" stroke-width="1.25"/>
<text x="59" y="541.6" text-anchor="end">2.6</text>
<line x1="62.6" y1="513.1" x2="68.6" y2="513.1" stroke="#262626" stroke-width="1.25"/>
<text x="59" y="519.3" text-anchor="end">2.8</text>
<line x1="62.6" y1="490.8" x2="68.6" y2="490.8" stroke="#262626" stroke-width="1.25"/>
<text x="59" y="497" text-anchor="end">3.0</text>
<line x1="68.6" y1="604.6" x2="68.6" y2="610.1" stroke="#262626" stroke-width="1.25"/>
<text x="68.6" y="625.6" text-anchor="middle">Jan</text>
<line x1="79.5" y1="604.6" x2="79.5" y2="610.1" stroke="#262626" stroke-width="1.25"/>
<line x1="89.34" y1="604.6" x2="89.34" y2="610.1" stroke="#262626" stroke-width="1.25"/>
<line x1="100.24" y1="604.6" x2="100.24" y2="610.1" stroke="#262626" stroke-width="1.25"/>
<text x="100.24" y="625.6" text-anchor="middle">Apr</text>
<line x1="110.78" y1="604.6" x2="110.78" y2="610.1" stroke="#262626" stroke-width="1.25"/>
<line x1="121.68" y1="604.6" x2="121.68" y2="610.1" stroke="#262626" stroke-width="1.25"/>
<line x1="132.22" y1="604.6" x2="132.22" y2="610.1" stroke="#262626" stroke-width="1.25"/>
<text x="132.22" y="625.6" text-anchor="middle">Jul</text>
<line x1="143.12" y1="604.6" x2="143.12" y2="610.1" stroke="#262626" stroke-width="1.25"/>
<line x1="154.02" y1="604.6" x2="154.02" y2="610.1" stroke="#262626" stroke-width="1.25"/>
<line x1="164.56" y1="604.6" x2="164.56" y2="610.1" stroke="#262626" stroke-width="1.25"/>
<text x="164.56" y="625.6" text-anchor="middle">Oct</text>
<line x1="175.46" y1="604.6" x2="175.46" y2="610.1" stroke="#262626" stroke-width="1.25"/>
<line x1="186" y1="604.6" x2="186" y2="610.1" stroke="#262626" stroke-width="1.25"/>
<line x1="196.9" y1="604.6" x2="196.9" y2="610.1" stroke="#262626" stroke-width="1.25"/>
<text x="196.9" y="625.6" text-anchor="middle">Jan</text>
<line x1="207.8" y1="604.6" x2="207.8" y2="610.1" stroke="#262626" stroke-width="1.25"/>
<line x1="217.64" y1="604.6" x2="217.64" y2="610.1" stroke="#262626" stroke-width="1.25"/>
<line x1="228.54" y1="604.6" x2="228.54" y2="610.1" stroke="#262626" stroke-width="1.25"/>
<text x="228.54" y="625.6" text-anchor="middle">Apr</text>
<line x1="239.08" y1="604.6" x2="239.08" y2="610.1" stroke="#262626" stroke-width="1.25"/>
<line x1="249.98" y1="604.6" x2="249.98" y2="610.1" stroke="#262626" stroke-width="1.25"/>
<line x1="260.52" y1="604.6" x2="260.52" y2="610.1" stroke="#262626" stroke-width="1.25"/>
<text x="260.52" y="625.6" text-anchor="middle">Jul</text>
<line x1="271.42" y1="604.6" x2="271.42" y2="610.1" stroke="#262626" stroke-width="1.25"/>
<line x1="282.32" y1="604.6" x2="282.32" y2="610.1" stroke="#262626" stroke-width="1.25"/>
<line x1="292.86" y1="604.6" x2="292.86" y2="610.1" stroke="#262626" stroke-width="1.25"/>
<text x="292.86" y="625.6" text-anchor="middle">Oct</text>
<line x1="303.76" y1="604.6" x2="303.76" y2="610.1" stroke="#262626" stroke-width="1.25"/>
<line x1="314.3" y1="604.6" x2="314.3" y2="610.1" stroke="#262626" stroke-width="1.25"/>
<line x1="325.2" y1="604.6" x2="325.2" y2="610.1" stroke="#262626" stroke-width="1.25"/>
<text x="325.2" y="625.6" text-anchor="middle">Jan</text>
<text transform="translate(12.9,546.5) rotate(-90)" text-anchor="middle">Reproduction number</text>
<text transform="translate(29.6,546.5) rotate(-90)" text-anchor="middle">(no vaccination)</text>
<rect x="511.76" y="347.5" width="26.82" height="257" fill="#bfbfbf"/>
<rect x="640.06" y="347.5" width="26.82" height="257" fill="#bfbfbf"/>
<path d="M415.8,373.13 L416.15,373.17 L416.5,373.22 L416.85,373.27 L417.21,373.33 L417.56,373.39 L417.91,373.47 L418.26,373.54 L418.61,373.63 L418.96,373.72 L419.32,373.83 L419.67,373.93 L420.02,374.05 L420.37,374.17 L420.72,374.3 L421.07,374.43 L421.42,374.57 L421.78,374.72 L422.13,374.88 L422.48,375.04 L422.83,375.21 L423.18,375.38 L423.53,375.57 L423.88,375.76 L424.24,375.95 L424.59,376.16 L424.94,376.37 L425.29,376.58 L425.64,376.81 L425.99,377.04 L426.35,377.27 L426.7,377.52 L427.05,377.77 L427.4,378.03 L427.75,378.29 L428.1,378.56 L428.45,378.84 L428.81,379.12 L429.16,379.41 L429.51,379.71 L429.86,380.01 L430.21,380.32 L430.56,380.64 L430.91,380.96 L431.27,381.29 L431.62,381.63 L431.97,381.97 L432.32,382.32 L432.67,382.67 L433.02,383.04 L433.38,383.4 L433.73,383.78 L434.08,384.16 L434.43,384.54 L434.78,384.94 L435.13,385.33 L435.48,385.74 L435.84,386.15 L436.19,386.57 L436.54,386.99 L436.89,387.42 L437.24,387.85 L437.59,388.29 L437.94,388.73 L438.3,389.19 L438.65,389.64 L439,390.1 L439.35,390.57 L439.7,391.04 L440.05,391.52 L440.41,392 L440.76,392.49 L441.11,392.98 L441.46,393.48 L441.81,393.98 L442.16,394.49 L442.51,395 L442.87,395.52 L443.22,396.04 L443.57,396.57 L443.92,397.1 L444.27,397.63 L444.62,398.17 L444.98,398.71 L445.33,399.25 L445.68,399.8 L446.03,400.36 L446.38,400.91 L446.73,401.47 L447.08,402.03 L447.44,402.6 L447.79,403.17 L448.14,403.74 L448.49,404.31 L448.84,404.89 L449.19,405.47 L449.54,406.05 L449.9,406.63 L450.25,407.21 L450.6,407.8 L450.95,408.38 L451.3,408.97 L451.65,409.56 L452.01,410.15 L452.36,410.74 L452.71,411.33 L453.06,411.93 L453.41,412.52 L453.76,413.11 L454.11,413.7 L454.47,414.29 L454.82,414.88 L455.17,415.47 L455.52,416.05 L455.87,416.64 L456.22,417.22 L456.57,417.81 L456.93,418.39 L457.28,418.96 L457.63,419.54 L457.98,420.11 L458.33,420.68 L458.68,421.24 L459.04,421.8 L459.39,422.36 L459.74,422.91 L460.09,423.46 L460.44,424.01 L460.79,424.55 L461.14,425.08 L461.5,425.61 L461.85,426.13 L462.2,426.65 L462.55,427.16 L462.9,427.66 L463.25,428.16 L463.6,428.65 L463.96,429.13 L464.31,429.61 L464.66,430.07 L465.01,430.53 L465.36,430.98 L465.71,431.43 L466.07,431.86 L466.42,432.28 L466.77,432.7 L467.12,433.1 L467.47,433.5 L467.82,433.88 L468.17,434.26 L468.53,434.62 L468.88,434.97 L469.23,435.31 L469.58,435.64 L469.93,435.96 L470.28,436.27 L470.64,436.57 L470.99,436.85 L471.34,437.12 L471.69,437.38 L472.04,437.63 L472.39,437.86 L472.74,438.08 L473.1,438.29 L473.45,438.48 L473.8,438.66 L474.15,438.83 L474.5,438.99 L474.85,439.13 L475.2,439.25 L475.56,439.36 L475.91,439.46 L476.26,439.55 L476.61,439.62 L476.96,439.68 L477.31,439.72 L477.67,439.75 L478.02,439.76 L478.37,439.76 L478.72,439.75 L479.07,439.72 L479.42,439.68 L479.77,439.62 L480.13,439.55 L480.48,439.46 L480.83,439.36 L481.18,439.25 L481.53,439.13 L481.88,438.99 L482.23,438.83 L482.59,438.66 L482.94,438.48 L483.29,438.29 L483.64,438.08 L483.99,437.86 L484.34,437.63 L484.7,437.38 L485.05,437.12 L485.4,436.85 L485.75,436.57 L486.1,436.27 L486.45,435.96 L486.8,435.64 L487.16,435.31 L487.51,434.97 L487.86,434.62 L488.21,434.26 L488.56,433.88 L488.91,433.5 L489.26,433.1 L489.62,432.7 L489.97,432.28 L490.32,431.86 L490.67,431.43 L491.02,430.98 L491.37,430.53 L491.73,430.07 L492.08,429.61 L492.43,429.13 L492.78,428.65 L493.13,428.16 L493.48,427.66 L493.83,427.16 L494.19,426.65 L494.54,426.13 L494.89,425.61 L495.24,425.08 L495.59,424.55 L495.94,424.01 L496.3,423.46 L496.65,422.91 L497,422.36 L497.35,421.8 L497.7,421.24 L498.05,420.68 L498.4,420.11 L498.76,419.54 L499.11,418.96 L499.46,418.39 L499.81,417.81 L500.16,417.22 L500.51,416.64 L500.86,416.05 L501.22,415.47 L501.57,414.88 L501.92,414.29 L502.27,413.7 L502.62,413.11 L502.97,412.52 L503.33,411.93 L503.68,411.33 L504.03,410.74 L504.38,410.15 L504.73,409.56 L505.08,408.97 L505.43,408.38 L505.79,407.8 L506.14,407.21 L506.49,406.63 L506.84,406.05 L507.19,405.47 L507.54,404.89 L507.89,404.31 L508.25,403.74 L508.6,403.17 L508.95,402.6 L509.3,402.03 L509.65,401.47 L510,400.91 L510.36,400.36 L510.71,399.8 L511.06,399.25 L511.41,398.71 L511.76,398.17 L512.11,397.63 L512.46,397.1 L512.82,396.57 L513.17,396.04 L513.52,395.52 L513.87,395 L514.22,394.49 L514.57,393.98 L514.92,393.48 L515.28,392.98 L515.63,392.49 L515.98,392 L516.33,391.52 L516.68,391.04 L517.03,390.57 L517.39,390.1 L517.74,389.64 L518.09,389.19 L518.44,388.73 L518.79,388.29 L519.14,387.85 L519.49,387.42 L519.85,386.99 L520.2,386.57 L520.55,386.15 L520.9,385.74 L521.25,385.33 L521.6,384.94 L521.96,384.54 L522.31,384.16 L522.66,383.78 L523.01,383.4 L523.36,383.04 L523.71,382.67 L524.06,382.32 L524.42,381.97 L524.77,381.63 L525.12,381.29 L525.47,380.96 L525.82,380.64 L526.17,380.32 L526.52,380.01 L526.88,379.71 L527.23,379.41 L527.58,379.12 L527.93,378.84 L528.28,378.56 L528.63,378.29 L528.99,378.03 L529.34,377.77 L529.69,377.52 L530.04,377.27 L530.39,377.04 L530.74,376.81 L531.09,376.58 L531.45,376.37 L531.8,376.16 L532.15,375.95 L532.5,375.76 L532.85,375.57 L533.2,375.38 L533.55,375.21 L533.91,375.04 L534.26,374.88 L534.61,374.72 L534.96,374.57 L535.31,374.43 L535.66,374.3 L536.02,374.17 L536.37,374.05 L536.72,373.93 L537.07,373.83 L537.42,373.72 L537.77,373.63 L538.12,373.54 L538.48,373.47 L538.83,373.39 L539.18,373.33 L539.53,373.27 L539.88,373.22 L540.23,373.17 L540.58,373.13 L540.94,373.1 L541.29,373.08 L541.64,373.06 L541.99,373.05 L542.34,373.05 L542.69,373.05 L543.05,373.06 L543.4,373.08 L543.75,373.1 L544.1,373.13 L544.45,373.17 L544.8,373.22 L545.15,373.27 L545.51,373.33 L545.86,373.39 L546.21,373.47 L546.56,373.54 L546.91,373.63 L547.26,373.72 L547.62,373.83 L547.97,373.93 L548.32,374.05 L548.67,374.17 L549.02,374.3 L549.37,374.43 L549.72,374.57 L550.08,374.72 L550.43,374.88 L550.78,375.04 L551.13,375.21 L551.48,375.38 L551.83,375.57 L552.18,375.76 L552.54,375.95 L552.89,376.16 L553.24,376.37 L553.59,376.58 L553.94,376.81 L554.29,377.04 L554.65,377.27 L555,377.52 L555.35,377.77 L555.7,378.03 L556.05,378.29 L556.4,378.56 L556.75,378.84 L557.11,379.12 L557.46,379.41 L557.81,379.71 L558.16,380.01 L558.51,380.32 L558.86,380.64 L559.21,380.96 L559.57,381.29 L559.92,381.63 L560.27,381.97 L560.62,382.32 L560.97,382.67 L561.32,383.04 L561.68,383.4 L562.03,383.78 L562.38,384.16 L562.73,384.54 L563.08,384.94 L563.43,385.33 L563.78,385.74 L564.14,386.15 L564.49,386.57 L564.84,386.99 L565.19,387.42 L565.54,387.85 L565.89,388.29 L566.24,388.73 L566.6,389.19 L566.95,389.64 L567.3,390.1 L567.65,390.57 L568,391.04 L568.35,391.52 L568.71,392 L569.06,392.49 L569.41,392.98 L569.76,393.48 L570.11,393.98 L570.46,394.49 L570.81,395 L571.17,395.52 L571.52,396.04 L571.87,396.57 L572.22,397.1 L572.57,397.63 L572.92,398.17 L573.28,398.71 L573.63,399.25 L573.98,399.8 L574.33,400.36 L574.68,400.91 L575.03,401.47 L575.38,402.03 L575.74,402.6 L576.09,403.17 L576.44,403.74 L576.79,404.31 L577.14,404.89 L577.49,405.47 L577.84,406.05 L578.2,406.63 L578.55,407.21 L578.9,407.8 L579.25,408.38 L579.6,408.97 L579.95,409.56 L580.31,410.15 L580.66,410.74 L581.01,411.33 L581.36,411.93 L581.71,412.52 L582.06,413.11 L582.41,413.7 L582.77,414.29 L583.12,414.88 L583.47,415.47 L583.82,416.05 L584.17,416.64 L584.52,417.22 L584.87,417.81 L585.23,418.39 L585.58,418.96 L585.93,419.54 L586.28,420.11 L586.63,420.68 L586.98,421.24 L587.34,421.8 L587.69,422.36 L588.04,422.91 L588.39,423.46 L588.74,424.01 L589.09,424.55 L589.44,425.08 L589.8,425.61 L590.15,426.13 L590.5,426.65 L590.85,427.16 L591.2,427.66 L591.55,428.16 L591.9,428.65 L592.26,429.13 L592.61,429.61 L592.96,430.07 L593.31,430.53 L593.66,430.98 L594.01,431.43 L594.37,431.86 L594.72,432.28 L595.07,432.7 L595.42,433.1 L595.77,433.5 L596.12,433.88 L596.47,434.26 L596.83,434.62 L597.18,434.97 L597.53,435.31 L597.88,435.64 L598.23,435.96 L598.58,436.27 L598.94,436.57 L599.29,436.85 L599.64,437.12 L599.99,437.38 L600.34,437.63 L600.69,437.86 L601.04,438.08 L601.4,438.29 L601.75,438.48 L602.1,438.66 L602.45,438.83 L602.8,438.99 L603.15,439.13 L603.5,439.25 L603.86,439.36 L604.21,439.46 L604.56,439.55 L604.91,439.62 L605.26,439.68 L605.61,439.72 L605.97,439.75 L606.32,439.76 L606.67,439.76 L607.02,439.75 L607.37,439.72 L607.72,439.68 L608.07,439.62 L608.43,439.55 L608.78,439.46 L609.13,439.36 L609.48,439.25 L609.83,439.13 L610.18,438.99 L610.53,438.83 L610.89,438.66 L611.24,438.48 L611.59,438.29 L611.94,438.08 L612.29,437.86 L612.64,437.63 L613,437.38 L613.35,437.12 L613.7,436.85 L614.05,436.57 L614.4,436.27 L614.75,435.96 L615.1,435.64 L615.46,435.31 L615.81,434.97 L616.16,434.62 L616.51,434.26 L616.86,433.88 L617.21,433.5 L617.56,433.1 L617.92,432.7 L618.27,432.28 L618.62,431.86 L618.97,431.43 L619.32,430.98 L619.67,430.53 L620.03,430.07 L620.38,429.61 L620.73,429.13 L621.08,428.65 L621.43,428.16 L621.78,427.66 L622.13,427.16 L622.49,426.65 L622.84,426.13 L623.19,425.61 L623.54,425.08 L623.89,424.55 L624.24,424.01 L624.6,423.46 L624.95,422.91 L625.3,422.36 L625.65,421.8 L626,421.24 L626.35,420.68 L626.7,420.11 L627.06,419.54 L627.41,418.96 L627.76,418.39 L628.11,417.81 L628.46,417.22 L628.81,416.64 L629.16,416.05 L629.52,415.47 L629.87,414.88 L630.22,414.29 L630.57,413.7 L630.92,413.11 L631.27,412.52 L631.63,411.93 L631.98,411.33 L632.33,410.74 L632.68,410.15 L633.03,409.56 L633.38,408.97 L633.73,408.38 L634.09,407.8 L634.44,407.21 L634.79,406.63 L635.14,406.05 L635.49,405.47 L635.84,404.89 L636.19,404.31 L636.55,403.74 L636.9,403.17 L637.25,402.6 L637.6,402.03 L637.95,401.47 L638.3,400.91 L638.66,400.36 L639.01,399.8 L639.36,399.25 L639.71,398.71 L640.06,398.17 L640.41,397.63 L640.76,397.1 L641.12,396.57 L641.47,396.04 L641.82,395.52 L642.17,395 L642.52,394.49 L642.87,393.98 L643.22,393.48 L643.58,392.98 L643.93,392.49 L644.28,392 L644.63,391.52 L644.98,391.04 L645.33,390.57 L645.69,390.1 L646.04,389.64 L646.39,389.19 L646.74,388.73 L647.09,388.29 L647.44,387.85 L647.79,387.42 L648.15,386.99 L648.5,386.57 L648.85,386.15 L649.2,385.74 L649.55,385.33 L649.9,384.94 L650.26,384.54 L650.61,384.16 L650.96,383.78 L651.31,383.4 L651.66,383.04 L652.01,382.67 L652.36,382.32 L652.72,381.97 L653.07,381.63 L653.42,381.29 L653.77,380.96 L654.12,380.64 L654.47,380.32 L654.82,380.01 L655.18,379.71 L655.53,379.41 L655.88,379.12 L656.23,378.84 L656.58,378.56 L656.93,378.29 L657.29,378.03 L657.64,377.77 L657.99,377.52 L658.34,377.27 L658.69,377.04 L659.04,376.81 L659.39,376.58 L659.75,376.37 L660.1,376.16 L660.45,375.95 L660.8,375.76 L661.15,375.57 L661.5,375.38 L661.85,375.21 L662.21,375.04 L662.56,374.88 L662.91,374.72 L663.26,374.57 L663.61,374.43 L663.96,374.3 L664.32,374.17 L664.67,374.05 L665.02,373.93 L665.37,373.83 L665.72,373.72 L666.07,373.63 L666.42,373.54 L666.78,373.47 L667.13,373.39 L667.48,373.33 L667.83,373.27 L668.18,373.22 L668.53,373.17 L668.88,373.13 L669.24,373.1 L669.59,373.08 L669.94,373.06 L670.29,373.05 L670.64,373.05 L670.99,373.05 L671.35,373.06 L671.7,373.08 L672.05,373.1 L672.4,373.13" fill="none" stroke="#0173b2" stroke-width="2.0" stroke-dasharray="7.4 3.2"/>
<path d="M415.8,463.8 L415.8,463.49 L416.3,462.94 L416.8,462.4 L417.3,461.89 L417.8,461.39 L418.3,460.91 L418.8,460.44 L419.3,459.99 L419.8,459.56 L420.3,459.15 L420.8,458.75 L421.3,458.37 L421.8,458 L422.3,457.66 L422.8,457.32 L423.3,457.01 L423.8,456.71 L424.3,456.43 L424.8,456.16 L425.3,455.91 L425.8,455.68 L426.3,455.46 L426.8,455.26 L427.3,455.07 L427.8,454.9 L428.3,454.75 L428.8,454.61 L429.3,454.49 L429.8,454.38 L430.3,454.29 L430.8,454.22 L431.3,454.16 L431.8,454.12 L432.3,454.09 L432.8,454.08 L433.3,454.08 L433.8,454.1 L434.3,454.13 L434.8,454.18 L435.3,454.25 L435.8,454.33 L436.3,454.42 L436.8,454.53 L437.3,454.66 L437.8,454.8 L438.3,454.96 L438.8,455.13 L439.3,455.31 L439.8,455.51 L440.3,455.73 L440.8,455.96 L441.3,456.2 L441.8,456.46 L442.3,456.74 L442.8,457.02 L443.3,457.32 L443.8,457.64 L444.3,457.96 L444.8,458.3 L445.3,458.65 L445.8,459 L446.3,459.37 L446.8,459.74 L447.3,460.12 L447.8,460.51 L448.3,460.9 L448.8,461.3 L449.3,461.71 L449.8,462.11 L450.3,462.53 L450.8,462.94 L451.3,463.35 L451.8,463.77 L452.3,464.19 L452.8,464.6 L453.3,465.02 L453.8,465.43 L454.3,465.85 L454.8,466.25 L455.3,466.66 L455.8,467.06 L456.3,467.45 L456.8,467.84 L457.3,468.22 L457.8,468.6 L458.3,468.96 L458.8,469.32 L459.3,469.67 L459.8,470.01 L460.3,470.33 L460.8,470.65 L461.3,470.95 L461.8,471.24 L462.3,471.51 L462.8,471.78 L463.3,472.02 L463.8,472.25 L464.3,472.46 L464.8,472.66 L465.3,472.84 L465.8,473 L466.3,473.14 L466.8,473.25 L467.3,473.35 L467.8,473.43 L468.3,473.48 L468.8,473.51 L469.3,473.52 L469.8,473.5 L470.3,473.46 L470.8,473.39 L471.3,473.3 L471.8,473.19 L472.3,473.05 L472.8,472.89 L473.3,472.7 L473.8,472.49 L474.3,472.26 L474.8,472 L475.3,471.72 L475.8,471.42 L476.3,471.1 L476.8,470.76 L477.3,470.39 L477.8,470.01 L478.3,469.6 L478.8,469.17 L479.3,468.72 L479.8,468.25 L480.3,467.76 L480.8,467.25 L481.3,466.72 L481.8,466.17 L482.3,465.6 L482.8,465.01 L483.3,464.41 L483.8,463.78 L484.3,463.14 L484.8,462.48 L485.3,461.8 L485.8,461.1 L486.3,460.39 L486.8,459.66 L487.3,458.91 L487.8,458.15 L488.3,457.36 L488.8,456.57 L489.3,455.75 L489.8,454.93 L490.3,454.08 L490.8,453.22 L491.3,452.35 L491.8,451.46 L492.3,450.55 L492.8,449.63 L493.3,448.7 L493.8,447.75 L494.3,446.79 L494.8,445.82 L495.3,444.84 L495.8,443.84 L496.3,442.83 L496.8,441.82 L497.3,440.8 L497.8,439.77 L498.3,438.73 L498.8,437.7 L499.3,436.66 L499.8,435.61 L500.3,434.57 L500.8,433.52 L501.3,432.48 L501.8,431.44 L502.3,430.4 L502.8,429.37 L503.3,428.35 L503.8,427.33 L504.3,426.31 L504.8,425.31 L505.3,424.32 L505.8,423.34 L506.3,422.37 L506.8,421.41 L507.3,420.47 L507.8,419.54 L508.3,418.64 L508.8,417.74 L509.3,416.87 L509.8,416.02 L510.3,415.19 L510.8,414.38 L511.3,413.59 L511.8,412.83 L511.9,412.68 L512.4,413.55 L512.9,413.8 L513.4,414.1 L513.9,414.44 L514.4,414.83 L514.9,415.28 L515.4,415.76 L515.9,416.29 L516.4,416.87 L516.9,417.49 L517.4,418.15 L517.9,418.85 L518.4,419.59 L518.9,420.37 L519.4,421.19 L519.9,422.04 L520.4,422.93 L520.9,423.86 L521.4,424.81 L521.9,425.8 L522.4,426.83 L522.9,427.88 L523.4,428.96 L523.9,430.07 L524.4,431.21 L524.9,432.38 L525.4,433.57 L525.9,434.78 L526.4,436.02 L526.9,437.28 L527.4,438.57 L527.9,439.87 L528.4,441.19 L528.9,442.53 L529.4,443.89 L529.9,445.27 L530.4,446.66 L530.9,448.06 L531.4,449.48 L531.9,450.91 L532.4,452.35 L532.9,453.8 L533.4,455.26 L533.9,456.73 L534.4,458.2 L534.9,459.68 L535.4,461.17 L535.9,462.66 L536.4,464.15 L536.9,465.65 L537.4,467.14 L537.9,468.64 L538.4,470.14 L538.6,470.73 L538.6,470.67 L539.1,469.93 L539.6,469.21 L540.1,468.5 L540.6,467.82 L541.1,467.15 L541.6,466.49 L542.1,465.86 L542.6,465.24 L543.1,464.64 L543.6,464.05 L544.1,463.49 L544.6,462.94 L545.1,462.4 L545.6,461.89 L546.1,461.39 L546.6,460.91 L547.1,460.44 L547.6,459.99 L548.1,459.56 L548.6,459.15 L549.1,458.75 L549.6,458.37 L550.1,458 L550.6,457.66 L551.1,457.32 L551.6,457.01 L552.1,456.71 L552.6,456.43 L553.1,456.16 L553.6,455.91 L554.1,455.68 L554.6,455.46 L555.1,455.26 L555.6,455.07 L556.1,454.9 L556.6,454.75 L557.1,454.61 L557.6,454.49 L558.1,454.38 L558.6,454.29 L559.1,454.22 L559.6,454.16 L560.1,454.12 L560.6,454.09 L561.1,454.08 L561.6,454.08 L562.1,454.1 L562.6,454.13 L563.1,454.18 L563.6,454.25 L564.1,454.33 L564.6,454.42 L565.1,454.53 L565.6,454.66 L566.1,454.8 L566.6,454.96 L567.1,455.13 L567.6,455.31 L568.1,455.51 L568.6,455.73 L569.1,455.96 L569.6,456.2 L570.1,456.46 L570.6,456.74 L571.1,457.02 L571.6,457.32 L572.1,457.64 L572.6,457.96 L573.1,458.3 L573.6,458.65 L574.1,459 L574.6,459.37 L575.1,459.74 L575.6,460.12 L576.1,460.51 L576.6,460.9 L577.1,461.3 L577.6,461.71 L578.1,462.11 L578.6,462.53 L579.1,462.94 L579.6,463.35 L580.1,463.77 L580.6,464.19 L581.1,464.6 L581.6,465.02 L582.1,465.43 L582.6,465.85 L583.1,466.25 L583.6,466.66 L584.1,467.06 L584.6,467.45 L585.1,467.84 L585.6,468.22 L586.1,468.6 L586.6,468.96 L587.1,469.32 L587.6,469.67 L588.1,470.01 L588.6,470.33 L589.1,470.65 L589.6,470.95 L590.1,471.24 L590.6,471.51 L591.1,471.78 L591.6,472.02 L592.1,472.25 L592.6,472.46 L593.1,472.66 L593.6,472.84 L594.1,473 L594.6,473.14 L595.1,473.25 L595.6,473.35 L596.1,473.43 L596.6,473.48 L597.1,473.51 L597.6,473.52 L598.1,473.5 L598.6,473.46 L599.1,473.39 L599.6,473.3 L600.1,473.19 L600.6,473.05 L601.1,472.89 L601.6,472.7 L602.1,472.49 L602.6,472.26 L603.1,472 L603.6,471.72 L604.1,471.42 L604.6,471.1 L605.1,470.76 L605.6,470.39 L606.1,470.01 L606.6,469.6 L607.1,469.17 L607.6,468.72 L608.1,468.25 L608.6,467.76 L609.1,467.25 L609.6,466.72 L610.1,466.17 L610.6,465.6 L611.1,465.01 L611.6,464.41 L612.1,463.78 L612.6,463.14 L613.1,462.48 L613.6,461.8 L614.1,461.1 L614.6,460.39 L615.1,459.66 L615.6,458.91 L616.1,458.15 L616.6,457.36 L617.1,456.57 L617.6,455.75 L618.1,454.93 L618.6,454.08 L619.1,453.22 L619.6,452.35 L620.1,451.46 L620.6,450.55 L621.1,449.63 L621.6,448.7 L622.1,447.75 L622.6,446.79 L623.1,445.82 L623.6,444.84 L624.1,443.84 L624.6,442.83 L625.1,441.82 L625.6,440.8 L626.1,439.77 L626.6,438.73 L627.1,437.7 L627.6,436.66 L628.1,435.61 L628.6,434.57 L629.1,433.52 L629.6,432.48 L630.1,431.44 L630.6,430.4 L631.1,429.37 L631.6,428.35 L632.1,427.33 L632.6,426.31 L633.1,425.31 L633.6,424.32 L634.1,423.34 L634.6,422.37 L635.1,421.41 L635.6,420.47 L636.1,419.54 L636.6,418.64 L637.1,417.74 L637.6,416.87 L638.1,416.02 L638.6,415.19 L639.1,414.38 L639.6,413.59 L640.1,412.83 L640.2,412.68 L640.7,413.55 L641.2,413.8 L641.7,414.1 L642.2,414.44 L642.7,414.83 L643.2,415.28 L643.7,415.76 L644.2,416.29 L644.7,416.87 L645.2,417.49 L645.7,418.15 L646.2,418.85 L646.7,419.59 L647.2,420.37 L647.7,421.19 L648.2,422.04 L648.7,422.93 L649.2,423.86 L649.7,424.81 L650.2,425.8 L650.7,426.83 L651.2,427.88 L651.7,428.96 L652.2,430.07 L652.7,431.21 L653.2,432.38 L653.7,433.57 L654.2,434.78 L654.7,436.02 L655.2,437.28 L655.7,438.57 L656.2,439.87 L656.7,441.19 L657.2,442.53 L657.7,443.89 L658.2,445.27 L658.7,446.66 L659.2,448.06 L659.7,449.48 L660.2,450.91 L660.7,452.35 L661.2,453.8 L661.7,455.26 L662.2,456.73 L662.7,458.2 L663.2,459.68 L663.7,461.17 L664.2,462.66 L664.7,464.15 L665.2,465.65 L665.7,467.14 L666.2,468.64 L666.7,470.14 L666.9,470.73 L666.9,470.67 L667.4,469.93 L667.9,469.21 L668.4,468.5 L668.9,467.82 L669.4,467.15 L669.9,466.49 L670.4,465.86 L670.9,465.24 L671.4,464.64 L671.9,464.05 L672.4,463.49 L672.4,463.49" fill="none" stroke="#de8f05" stroke-width="2.0" stroke-linejoin="round" stroke-linecap="round"/>
<path d="M415.8,347.5 L415.8,604.5 L672.4,604.5" fill="none" stroke="#262626" stroke-width="1.25" stroke-linecap="square"/>
<line x1="409.8" y1="604.5" x2="415.8" y2="604.5" stroke="#262626" stroke-width="1.25"/>
<text x="406.2" y="610.7" text-anchor="end">0.0</text>
<line x1="409.8" y1="553.1" x2="415.8" y2="553.1" stroke="#262626" stroke-width="1.25"/>
<text x="406.2" y="559.3" text-anchor="end">0.1</text>
<line x1="409.8" y1="501.7" x2="415.8" y2="501.7" stroke="#262626" stroke-width="1.25"/>
<text x="406.2" y="507.9" text-anchor="end">0.2</text>
<line x1="409.8" y1="450.3" x2="415.8" y2="450.3" stroke="#262626" stroke-width="1.25"/>
<text x="406.2" y="456.5" text-anchor="end">0.3</text>
<line x1="409.8" y1="398.9" x2="415.8" y2="398.9" stroke="#262626" stroke-width="1.25"/>
<text x="406.2" y="405.1" text-anchor="end">0.4</text>
<line x1="409.8" y1="347.5" x2="415.8" y2="347.5" stroke="#262626" stroke-width="1.25"/>
<text x="406.2" y="353.7" text-anchor="end">0.5</text>
<line x1="415.8" y1="604.5" x2="415.8" y2="610" stroke="#262626" stroke-width="1.25"/>
<text x="415.8" y="625.5" text-anchor="middle">Jan</text>
<line x1="426.7" y1="604.5" x2="426.7" y2="610" stroke="#262626" stroke-width="1.25"/>
<line x1="436.54" y1="604.5" x2="436.54" y2="610" stroke="#262626" stroke-width="1.25"/>
<line x1="447.44" y1="604.5" x2="447.44" y2="610" stroke="#262626" stroke-width="1.25"/>
<text x="447.44" y="625.5" text-anchor="middle">Apr</text>
<line x1="457.98" y1="604.5" x2="457.98" y2="610" stroke="#262626" stroke-width="1.25"/>
<line x1="468.88" y1="604.5" x2="468.88" y2="610" stroke="#262626" stroke-width="1.25"/>
<line x1="479.42" y1="604.5" x2="479.42" y2="610" stroke="#262626" stroke-width="1.25"/>
<text x="479.42" y="625.5" text-anchor="middle">Jul</text>
<line x1="490.32" y1="604.5" x2="490.32" y2="610" stroke="#262626" stroke-width="1.25"/>
<line x1="501.22" y1="604.5" x2="501.22" y2="610" stroke="#262626" stroke-width="1.25"/>
<line x1="511.76" y1="604.5" x2="511.76" y2="610" stroke="#262626" stroke-width="1.25"/>
<text x="511.76" y="625.5" text-anchor="middle">Oct</text>
<line x1="522.66" y1="604.5" x2="522.66" y2="610" stroke="#262626" stroke-width="1.25"/>
<line x1="533.2" y1="604.5" x2="533.2" y2="610" stroke="#262626" stroke-width="1.25"/>
<line x1="544.1" y1="604.5" x2="544.1" y2="610" stroke="#262626" stroke-width="1.25"/>
<text x="544.1" y="625.5" text-anchor="middle">Jan</text>
<line x1="555" y1="604.5" x2="555" y2="610" stroke="#262626" stroke-width="1.25"/>
<line x1="564.84" y1="604.5" x2="564.84" y2="610" stroke="#262626" stroke-width="1.25"/>
<line x1="575.74" y1="604.5" x2="575.74" y2="610" stroke="#262626" stroke-width="1.25"/>
<text x="575.74" y="625.5" text-anchor="middle">Apr</text>
<line x1="586.28" y1="604.5" x2="586.28" y2="610" stroke="#262626" stroke-width="1.25"/>
<line x1="597.18" y1="604.5" x2="597.18" y2="610" stroke="#262626" stroke-width="1.25"/>
<line x1="607.72" y1="604.5" x2="607.72" y2="610" stroke="#262626" stroke-width="1.25"/>
<text x="607.72" y="625.5" text-anchor="middle">Jul</text>
<line x1="618.62" y1="604.5" x2="618.62" y2="610" stroke="#262626" stroke-width="1.25"/>
<line x1="629.52" y1="604.5" x2="629.52" y2="610" stroke="#262626" stroke-width="1.25"/>
<line x1="640.06" y1="604.5" x2="640.06" y2="610" stroke="#262626" stroke-width="1.25"/>
<text x="640.06" y="625.5" text-anchor="middle">Oct</text>
<line x1="650.96" y1="604.5" x2="650.96" y2="610" stroke="#262626" stroke-width="1.25"/>
<line x1="661.5" y1="604.5" x2="661.5" y2="610" stroke="#262626" stroke-width="1.25"/>
<line x1="672.4" y1="604.5" x2="672.4" y2="610" stroke="#262626" stroke-width="1.25"/>
<text x="672.4" y="625.5" text-anchor="middle">Jan</text>
<text transform="translate(377.5,476) rotate(-90)" text-anchor="middle">Outbreak risk</text>
<rect x="495.5" y="554.5" width="169.8" height="42.8" rx="2.8" fill="#fff" fill-opacity="0.8" stroke="#ccc" stroke-opacity="0.8" stroke-width="1.05"/>
<line x1="500.9" y1="564.8" x2="529.1" y2="564.8" stroke="#0173b2" stroke-width="2.0" stroke-dasharray="7.4 3.2"/>
<line x1="500.9" y1="584.4" x2="529.1" y2="584.4" stroke="#de8f05" stroke-width="2.0" stroke-linecap="round"/>
<text x="540" y="569.4" font-size="13.8">Without vaccination</text>
<text x="540" y="589.3" font-size="13.8">With vaccination</text>
<text x="0" y="13.7" font-size="20" fill="#000">A.</text>
<text x="347" y="13.7" font-size="20" fill="#000">B.</text>
<text x="0" y="341.2" font-size="20" fill="#000">C.</text>
<text x="347" y="341.2" font-size="20" fill="#000">D.</text>
</svg>
</body></html>
